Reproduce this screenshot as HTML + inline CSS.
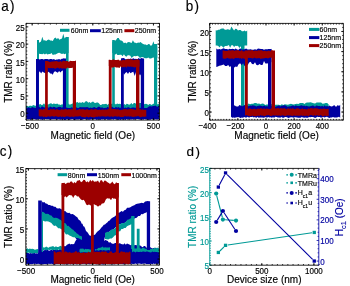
<!DOCTYPE html>
<html><head><meta charset="utf-8"><style>
html,body{margin:0;padding:0;background:#fff;}
svg{display:block;font-family:"Liberation Sans",sans-serif;}
</style></head><body>
<svg width="350" height="286" viewBox="0 0 350 286">
<defs><filter id="bl" x="0" y="0" width="350" height="286" filterUnits="userSpaceOnUse"><feGaussianBlur stdDeviation="0.4"/></filter></defs>
<rect width="350" height="286" fill="#fff"/>
<g filter="url(#bl)">
<rect width="350" height="286" fill="#fff"/>
<clipPath id="ca"><rect x="26.1" y="23.4" width="133.4" height="96.69999999999999"/></clipPath>
<g clip-path="url(#ca)"><path d="M26,105.9 L27.2,106 L28.4,106.6 L29.6,105.8 L30.8,105.8 L32,105.9 L33.2,105.1 L34.4,105.6 L35.6,105.8 L36.8,105.9 L38,104.4 L39.2,104.6 L40.4,104 L41.6,105.1 L42.8,104.7 L44,103.3 L45.2,104.9 L46.4,104.9 L47.6,104.4 L48.8,104.3 L50,103.5 L51.2,103.3 L52.4,104.3 L53.6,103.5 L54.8,103.8 L56,103.9 L57.2,103.6 L58.4,104.4 L59.5,104.4 L60.7,105 L61.9,104.3 L63.1,104.4 L64.3,104.1 L65.5,104.2 L66.7,103.7 L67.9,103.3 L69.1,104.5 L70.3,104.4 L71.5,104 L72.7,103.6 L73.9,102.8 L75.1,102.5 L76.3,102.5 L77.5,101.9 L78.7,103 L79.9,102.2 L81.1,102.9 L82.3,101.9 L83.5,102.8 L84.7,102.5 L85.9,101 L87.1,101.4 L88.3,102.8 L89.5,102.1 L90.7,103.1 L91.9,102.1 L93.1,101.6 L94.3,102.7 L95.5,103.1 L96.7,102.6 L97.9,102.6 L99.1,103.4 L100.3,104.9 L101.5,104.8 L102.7,104 L103.9,104.3 L105.1,103.9 L106.3,103.7 L107.5,104.9 L108.7,103.7 L109.9,104.3 L111.1,104 L112.3,103.5 L113.5,104.5 L114.7,103.4 L115.9,104.4 L117.1,103.5 L118.3,104.1 L119.5,103.8 L120.7,103.9 L121.9,105.2 L123.1,105 L124.3,104.1 L125.5,105.1 L126.6,103.8 L127.8,104 L129,104.7 L130.2,104.2 L131.4,103.1 L132.6,104.6 L133.8,103.1 L135,103.1 L136.2,104.1 L137.4,103.3 L138.6,103.3 L139.8,103 L141,103.1 L142.2,104 L143.4,103.5 L144.6,104.2 L145.8,103.8 L147,104 L148.2,104.9 L149.4,104.1 L150.6,104.3 L151.8,104.9 L153,103.7 L154.2,103.7 L155.4,105.1 L156.6,105 L157.8,104 L159,103.9 L159,110 L157.8,110 L156.6,110 L155.4,110 L154.2,110 L153,110 L151.8,110 L150.6,110 L149.4,110 L148.2,110 L147,110 L145.8,110 L144.6,110 L143.4,110 L142.2,110 L141,110 L139.8,110 L138.6,110 L137.4,110 L136.2,110 L135,110 L133.8,110 L132.6,110 L131.4,110 L130.2,110 L129,110 L127.8,110 L126.6,110 L125.5,110 L124.3,110 L123.1,110 L121.9,110 L120.7,110 L119.5,110 L118.3,110 L117.1,110 L115.9,110 L114.7,110 L113.5,110 L112.3,110 L111.1,110 L109.9,110 L108.7,110 L107.5,110 L106.3,110 L105.1,110 L103.9,110 L102.7,110 L101.5,110 L100.3,110 L99.1,110 L97.9,110 L96.7,110 L95.5,110 L94.3,110 L93.1,110 L91.9,110 L90.7,110 L89.5,110 L88.3,110 L87.1,110 L85.9,110 L84.7,110 L83.5,110 L82.3,110 L81.1,110 L79.9,110 L78.7,110 L77.5,110 L76.3,110 L75.1,110 L73.9,110 L72.7,110 L71.5,110 L70.3,110 L69.1,110 L67.9,110 L66.7,110 L65.5,110 L64.3,110 L63.1,110 L61.9,110 L60.7,110 L59.5,110 L58.4,110 L57.2,110 L56,110 L54.8,110 L53.6,110 L52.4,110 L51.2,110 L50,110 L48.8,110 L47.6,110 L46.4,110 L45.2,110 L44,110 L42.8,110 L41.6,110 L40.4,110 L39.2,110 L38,110 L36.8,110 L35.6,110 L34.4,110 L33.2,110 L32,110 L30.8,110 L29.6,110 L28.4,110 L27.2,110 L26,110Z" fill="#009a96"/><path d="M37,42.1 L38.3,42.5 L39.6,42.4 L41,41.4 L42.3,36.7 L43.6,40.4 L44.9,40.3 L46.2,41 L47.5,39.9 L48.9,39.6 L50.2,40.6 L51.5,40.5 L52.8,41 L54.1,38.6 L55.4,37.6 L56.8,38.9 L58.1,38.1 L59.4,39.7 L60.7,39 L62,38.6 L63.3,33.8 L64.6,38.5 L66,36.7 L67.3,37.6 L68.6,37.1 L68.6,53.3 L67.3,52.4 L66,53.5 L64.6,54.2 L63.3,53.6 L62,53.9 L60.7,53.5 L59.4,52.7 L58.1,52.9 L56.8,53.8 L55.4,54.4 L54.1,54.4 L52.8,54.9 L51.5,53.1 L50.2,54 L48.9,54.1 L47.5,54.5 L46.2,53.6 L44.9,54.5 L43.6,53.4 L42.3,54.2 L41,54.1 L39.6,54 L38.3,52.7 L37,54.5Z" fill="#009a96"/><path d="M37,40 L37,42 L37,44 L37,46 L37,48 L37,50 L37,52 L37,54 L37,56 L37,58 L37,60 L37,62 L37,64 L37,66 L37,68 L37,70 L37,72 L37,74 L37,76 L37,78 L37,80 L37,82 L37,84 L37,86 L37,88 L37,90 L37,92 L37,94 L37,96 L37,98 L37,100 L37,102 L37,104 L37,106 L37,108 L39,108 L39,106 L39,104 L39,102 L39,100 L39,98 L39,96 L39,94 L39,92 L39,90 L39,88 L39,86 L39,84 L39,82 L39,80 L39,78 L39,76 L39,74 L39,72 L39,70 L39,68 L39,66 L39,64 L39,62 L39,60 L39,58 L39,56 L39,54 L39,52 L39,50 L39,48 L39,46 L39,44 L39,42 L39,40Z" fill="#009a96"/><path d="M66,37 L66,39 L66,41.1 L66,43.1 L66,45.1 L66,47.1 L66,49.2 L66,51.2 L66,53.2 L66,55.3 L66,57.3 L66,59.3 L66,61.3 L66,63.4 L66,65.4 L66,67.4 L66,69.5 L66,71.5 L66,73.5 L66,75.5 L66,77.6 L66,79.6 L66,81.6 L66,83.7 L66,85.7 L66,87.7 L66,89.7 L66,91.8 L66,93.8 L66,95.8 L66,97.9 L66,99.9 L66,101.9 L66,103.9 L66,106 L66,108 L68.6,108 L68.6,106 L68.6,103.9 L68.6,101.9 L68.6,99.9 L68.6,97.9 L68.6,95.8 L68.6,93.8 L68.6,91.8 L68.6,89.7 L68.6,87.7 L68.6,85.7 L68.6,83.7 L68.6,81.6 L68.6,79.6 L68.6,77.6 L68.6,75.5 L68.6,73.5 L68.6,71.5 L68.6,69.5 L68.6,67.4 L68.6,65.4 L68.6,63.4 L68.6,61.3 L68.6,59.3 L68.6,57.3 L68.6,55.3 L68.6,53.2 L68.6,51.2 L68.6,49.2 L68.6,47.1 L68.6,45.1 L68.6,43.1 L68.6,41.1 L68.6,39 L68.6,37Z" fill="#009a96"/><path d="M112.3,42.1 L113.6,40.6 L114.9,40.9 L116.2,39.7 L117.4,38.1 L118.7,38 L120,40.3 L121.3,40.6 L122.6,41.3 L123.9,43.3 L125.2,42.6 L126.4,43.4 L127.7,42.2 L129,42.1 L130.3,42.6 L131.6,42.9 L132.9,40.3 L134.2,42.6 L135.4,42.8 L136.7,43.2 L138,42.6 L139.3,42.7 L140.6,41.9 L141.9,43.3 L143.2,44.1 L144.4,44.5 L145.7,44.5 L147,45.2 L148.3,44.1 L149.6,44.2 L150.9,46 L152.2,44.7 L153.4,41.3 L154.7,45.5 L156,44.9 L157.3,46.4 L157.3,58 L156,58.7 L154.7,59.7 L153.4,57.3 L152.2,57.9 L150.9,58.5 L149.6,58.6 L148.3,57.5 L147,58.2 L145.7,58.3 L144.4,58 L143.2,57.3 L141.9,57 L140.6,57.8 L139.3,57.5 L138,55.8 L136.7,55.9 L135.4,56.2 L134.2,56.1 L132.9,56.7 L131.6,58.1 L130.3,55.7 L129,55.2 L127.7,55.3 L126.4,56.8 L125.2,56 L123.9,54.3 L122.6,56.2 L121.3,54.8 L120,54.8 L118.7,54.9 L117.4,54.9 L116.2,53.5 L114.9,55 L113.6,53.5 L112.3,53Z" fill="#009a96"/><path d="M112.2,40 L112.2,42 L112.2,44 L112.2,46 L112.2,48 L112.2,50 L112.2,52 L112.2,54 L112.2,56 L112.2,58 L112.2,60 L112.2,62 L112.2,64 L112.2,66 L112.2,68 L112.2,70 L112.2,72 L112.2,74 L112.2,76 L112.2,78 L112.2,80 L112.2,82 L112.2,84 L112.2,86 L112.2,88 L112.2,90 L112.2,92 L112.2,94 L112.2,96 L112.2,98 L112.2,100 L112.2,102 L112.2,104 L112.2,106 L112.2,108 L114.8,108 L114.8,106 L114.8,104 L114.8,102 L114.8,100 L114.8,98 L114.8,96 L114.8,94 L114.8,92 L114.8,90 L114.8,88 L114.8,86 L114.8,84 L114.8,82 L114.8,80 L114.8,78 L114.8,76 L114.8,74 L114.8,72 L114.8,70 L114.8,68 L114.8,66 L114.8,64 L114.8,62 L114.8,60 L114.8,58 L114.8,56 L114.8,54 L114.8,52 L114.8,50 L114.8,48 L114.8,46 L114.8,44 L114.8,42 L114.8,40Z" fill="#009a96"/><path d="M154,44 L154,46 L154,48 L154,50 L154,52 L154,54 L154,56 L154,58 L154,60 L154,62 L154,64 L154,66 L154,68 L154,70 L154,72 L154,74 L154,76 L154,78 L154,80 L154,82 L154,84 L154,86 L154,88 L154,90 L154,92 L154,94 L154,96 L154,98 L154,100 L154,102 L154,104 L154,106 L154,108 L157.2,108 L157.2,106 L157.2,104 L157.2,102 L157.2,100 L157.2,98 L157.2,96 L157.2,94 L157.2,92 L157.2,90 L157.2,88 L157.2,86 L157.2,84 L157.2,82 L157.2,80 L157.2,78 L157.2,76 L157.2,74 L157.2,72 L157.2,70 L157.2,68 L157.2,66 L157.2,64 L157.2,62 L157.2,60 L157.2,58 L157.2,56 L157.2,54 L157.2,52 L157.2,50 L157.2,48 L157.2,46 L157.2,44Z" fill="#009a96"/><path d="M26,107.1 L27.2,108 L28.4,107.3 L29.6,107.7 L30.8,108.2 L32,107.1 L33.2,107.5 L34.4,107.8 L35.6,108 L36.8,107.2 L38,107.1 L39.2,106.7 L40.4,107.9 L41.6,106.6 L42.8,106.6 L44,107.4 L45.2,107.3 L46.4,107.6 L47.6,107 L48.8,107.8 L50,106.6 L51.2,106.9 L52.4,107.6 L53.6,106.7 L54.8,107 L56,107.7 L57.2,107.6 L58.4,107 L59.5,106.8 L60.7,107.1 L61.9,107.7 L63.1,107.1 L64.3,106.7 L65.5,107.7 L66.7,107.5 L67.9,108 L69.1,108.1 L70.3,108 L71.5,107.3 L72.7,107.8 L73.9,107.1 L75.1,107.1 L76.3,107.2 L77.5,108.1 L78.7,108 L79.9,107 L81.1,107.2 L82.3,107.2 L83.5,107.2 L84.7,107.2 L85.9,107.2 L87.1,106.9 L88.3,107.5 L89.5,107.9 L90.7,107.5 L91.9,107.9 L93.1,107.5 L94.3,106.9 L95.5,107.8 L96.7,108 L97.9,107.1 L99.1,106.6 L100.3,107.4 L101.5,107.5 L102.7,107.5 L103.9,108.2 L105.1,107.7 L106.3,107.9 L107.5,106.7 L108.7,107.5 L109.9,107.9 L111.1,106.8 L112.3,106.8 L113.5,107.8 L114.7,108.1 L115.9,106.8 L117.1,107.7 L118.3,106.9 L119.5,107.8 L120.7,107.7 L121.9,107 L123.1,107 L124.3,107.9 L125.5,107.5 L126.6,107.9 L127.8,107.3 L129,107.2 L130.2,108.2 L131.4,107.7 L132.6,107.5 L133.8,107.5 L135,107.8 L136.2,107.8 L137.4,108.1 L138.6,107.3 L139.8,108 L141,107.8 L142.2,108.1 L143.4,108 L144.6,108 L145.8,108.1 L147,107.9 L148.2,106.9 L149.4,106.3 L150.6,106.3 L151.8,106.5 L153,105.9 L154.2,105.9 L155.4,105.4 L156.6,106.4 L157.8,106.8 L159,105.8 L159,119 L157.8,119.5 L156.6,119.6 L155.4,119.2 L154.2,119.7 L153,119.4 L151.8,119 L150.6,119.7 L149.4,119.8 L148.2,120 L147,119.5 L145.8,119.4 L144.6,119.1 L143.4,119.7 L142.2,119.4 L141,119.7 L139.8,119.5 L138.6,119.3 L137.4,119.1 L136.2,119.3 L135,119.3 L133.8,119.8 L132.6,119.2 L131.4,119.5 L130.2,119.5 L129,119.2 L127.8,119.8 L126.6,119.1 L125.5,119.9 L124.3,119.4 L123.1,119.8 L121.9,119.3 L120.7,119.9 L119.5,119.6 L118.3,120 L117.1,119.5 L115.9,119.5 L114.7,119.1 L113.5,119.7 L112.3,119.3 L111.1,119.1 L109.9,119.8 L108.7,119.8 L107.5,119.8 L106.3,119 L105.1,119.8 L103.9,119.2 L102.7,119.5 L101.5,119.3 L100.3,120 L99.1,119.6 L97.9,119.5 L96.7,119.9 L95.5,119.3 L94.3,119.3 L93.1,119.2 L91.9,119.2 L90.7,119.6 L89.5,119.7 L88.3,119.8 L87.1,119.4 L85.9,119.5 L84.7,119 L83.5,119.2 L82.3,119.7 L81.1,120 L79.9,119.3 L78.7,119.5 L77.5,119.5 L76.3,119.4 L75.1,119.8 L73.9,119.9 L72.7,119 L71.5,119.2 L70.3,119.5 L69.1,120 L67.9,119.5 L66.7,119.3 L65.5,119.9 L64.3,119.9 L63.1,119.3 L61.9,119.5 L60.7,119.8 L59.5,119.5 L58.4,119.3 L57.2,119.8 L56,119.2 L54.8,119.3 L53.6,119.2 L52.4,119.2 L51.2,119.6 L50,119.7 L48.8,119.2 L47.6,119.2 L46.4,119.2 L45.2,119.1 L44,119 L42.8,119.9 L41.6,119.6 L40.4,119.5 L39.2,119.1 L38,119.2 L36.8,119.8 L35.6,119.6 L34.4,119.1 L33.2,119.3 L32,119.1 L30.8,120 L29.6,119.3 L28.4,119.4 L27.2,119.2 L26,119.2Z" fill="#0000a0"/><path d="M36,60 L37.3,59.7 L38.6,58.9 L39.8,59.5 L41.1,59 L42.4,59.1 L43.7,59.4 L45,59 L46.3,59.1 L47.5,59.1 L48.8,59.5 L50.1,59 L51.4,58.9 L52.7,59.6 L54,59.1 L55.2,59.9 L56.5,59.4 L57.8,59.6 L59.1,59.1 L60.4,59.8 L61.7,58.7 L62.9,58.8 L64.2,58.7 L65.5,59.5 L65.5,71.5 L64.2,72.2 L62.9,70.4 L61.7,71 L60.4,72.5 L59.1,70.9 L57.8,72.7 L56.5,72.1 L55.2,71.3 L54,72.1 L52.7,74.7 L51.4,73.5 L50.1,73.5 L48.8,71.8 L47.5,72.4 L46.3,73.5 L45,73 L43.7,72.4 L42.4,71.4 L41.1,73.5 L39.8,71.3 L38.6,73 L37.3,71.3 L36,72.5Z" fill="#0000a0"/><path d="M36,59 L36,61 L36,63.1 L36,65.1 L36,67.2 L36,69.2 L36,71.2 L36,73.3 L36,75.3 L36,77.4 L36,79.4 L36,81.5 L36,83.5 L36,85.5 L36,87.6 L36,89.6 L36,91.7 L36,93.7 L36,95.8 L36,97.8 L36,99.8 L36,101.9 L36,103.9 L36,106 L36,108 L38.9,108 L38.9,106 L38.9,103.9 L38.9,101.9 L38.9,99.8 L38.9,97.8 L38.9,95.8 L38.9,93.7 L38.9,91.7 L38.9,89.6 L38.9,87.6 L38.9,85.5 L38.9,83.5 L38.9,81.5 L38.9,79.4 L38.9,77.4 L38.9,75.3 L38.9,73.3 L38.9,71.2 L38.9,69.2 L38.9,67.2 L38.9,65.1 L38.9,63.1 L38.9,61 L38.9,59Z" fill="#0000a0"/><path d="M62.9,58.5 L62.9,60.6 L62.9,62.6 L62.9,64.7 L62.9,66.8 L62.9,68.8 L62.9,70.9 L62.9,72.9 L62.9,75 L62.9,77.1 L62.9,79.1 L62.9,81.2 L62.9,83.2 L62.9,85.3 L62.9,87.4 L62.9,89.4 L62.9,91.5 L62.9,93.6 L62.9,95.6 L62.9,97.7 L62.9,99.8 L62.9,101.8 L62.9,103.9 L62.9,105.9 L62.9,108 L66,108 L66,105.9 L66,103.9 L66,101.8 L66,99.8 L66,97.7 L66,95.6 L66,93.6 L66,91.5 L66,89.4 L66,87.4 L66,85.3 L66,83.2 L66,81.2 L66,79.1 L66,77.1 L66,75 L66,72.9 L66,70.9 L66,68.8 L66,66.8 L66,64.7 L66,62.6 L66,60.6 L66,58.5Z" fill="#0000a0"/><path d="M121.3,58.5 L122.6,58.2 L124,58 L125.3,59.2 L126.6,59.3 L128,58.8 L129.3,59.1 L130.6,58.5 L132,59 L133.3,58.2 L134.7,58.9 L136,58.7 L137.3,59.2 L138.7,58 L140,59 L141.3,58.1 L142.7,58.7 L144,59.2 L144,73.2 L142.7,71.9 L141.3,73.7 L140,75.4 L138.7,73.5 L137.3,71.5 L136,71.9 L134.7,76 L133.3,71.8 L132,72.2 L130.6,73.3 L129.3,71.8 L128,74 L126.6,72 L125.3,73.1 L124,74.7 L122.6,71.7 L121.3,71.1Z" fill="#0000a0"/><path d="M121,58.5 L121,60.6 L121,62.6 L121,64.7 L121,66.8 L121,68.8 L121,70.9 L121,72.9 L121,75 L121,77.1 L121,79.1 L121,81.2 L121,83.2 L121,85.3 L121,87.4 L121,89.4 L121,91.5 L121,93.6 L121,95.6 L121,97.7 L121,99.8 L121,101.8 L121,103.9 L121,105.9 L121,108 L123.8,108 L123.8,105.9 L123.8,103.9 L123.8,101.8 L123.8,99.8 L123.8,97.7 L123.8,95.6 L123.8,93.6 L123.8,91.5 L123.8,89.4 L123.8,87.4 L123.8,85.3 L123.8,83.2 L123.8,81.2 L123.8,79.1 L123.8,77.1 L123.8,75 L123.8,72.9 L123.8,70.9 L123.8,68.8 L123.8,66.8 L123.8,64.7 L123.8,62.6 L123.8,60.6 L123.8,58.5Z" fill="#0000a0"/><path d="M140.8,58.5 L140.8,60.6 L140.8,62.6 L140.8,64.7 L140.8,66.8 L140.8,68.8 L140.8,70.9 L140.8,72.9 L140.8,75 L140.8,77.1 L140.8,79.1 L140.8,81.2 L140.8,83.2 L140.8,85.3 L140.8,87.4 L140.8,89.4 L140.8,91.5 L140.8,93.6 L140.8,95.6 L140.8,97.7 L140.8,99.8 L140.8,101.8 L140.8,103.9 L140.8,105.9 L140.8,108 L144.1,108 L144.1,105.9 L144.1,103.9 L144.1,101.8 L144.1,99.8 L144.1,97.7 L144.1,95.6 L144.1,93.6 L144.1,91.5 L144.1,89.4 L144.1,87.4 L144.1,85.3 L144.1,83.2 L144.1,81.2 L144.1,79.1 L144.1,77.1 L144.1,75 L144.1,72.9 L144.1,70.9 L144.1,68.8 L144.1,66.8 L144.1,64.7 L144.1,62.6 L144.1,60.6 L144.1,58.5Z" fill="#0000a0"/><path d="M38.7,109.2 L39.9,109.6 L41.1,108.9 L42.3,109.9 L43.5,109 L44.7,109.2 L45.9,109 L47.1,109.8 L48.3,110 L49.5,109.9 L50.7,108.9 L51.9,109.4 L53,109.3 L54.2,109.1 L55.4,110.2 L56.6,108.9 L57.8,109.5 L59,109.9 L60.2,110.2 L61.4,109 L62.6,109.4 L63.8,109.8 L65,108.9 L66.2,109.1 L67.4,110 L68.6,109 L69.8,109.4 L71,109.2 L72.2,109.4 L73.4,108.9 L74.6,108.8 L75.8,110.2 L77,109.9 L78.2,109.8 L79.3,109.1 L80.5,109.2 L81.7,109.6 L82.9,109.1 L84.1,109.4 L85.3,110.1 L86.5,109.3 L87.7,109.3 L88.9,110.2 L90.1,109.7 L91.3,108.9 L92.5,109.4 L93.7,109.7 L94.9,108.9 L96.1,109.3 L97.3,109.8 L98.5,110 L99.7,109.6 L100.9,110 L102.1,109.4 L103.3,109.4 L104.5,110 L105.7,109.3 L106.8,109.9 L108,109.1 L109.2,109.3 L110.4,109.1 L111.6,109.6 L112.8,109 L114,109.1 L115.2,109.1 L116.4,109.5 L117.6,109.2 L118.8,109.4 L120,110.2 L121.2,109.8 L122.4,110 L123.6,109.1 L124.8,109.3 L126,108.9 L127.2,109.8 L128.4,109.3 L129.6,109.2 L130.8,108.8 L132,109.1 L133.1,109.2 L134.3,109.4 L135.5,110.1 L136.7,109.8 L137.9,109.2 L139.1,109.3 L140.3,109 L141.5,110.1 L142.7,109.3 L143.9,109.9 L145.1,109.8 L146.3,110.1 L146.3,116.8 L145.1,116.4 L143.9,117 L142.7,116.5 L141.5,116.9 L140.3,117.3 L139.1,116.6 L137.9,116.1 L136.7,116.5 L135.5,116.6 L134.3,116.8 L133.1,116.9 L132,116.8 L130.8,116.2 L129.6,116.7 L128.4,116.2 L127.2,116.6 L126,116.6 L124.8,116.1 L123.6,117.1 L122.4,116.9 L121.2,117.1 L120,116.9 L118.8,116.3 L117.6,116.7 L116.4,116.6 L115.2,116.2 L114,116.4 L112.8,117 L111.6,116.3 L110.4,116.8 L109.2,116.7 L108,116.3 L106.8,116.5 L105.7,116.8 L104.5,116.6 L103.3,116.6 L102.1,116.2 L100.9,116.6 L99.7,116.7 L98.5,116.2 L97.3,117 L96.1,116.4 L94.9,117.3 L93.7,117.4 L92.5,117 L91.3,117.1 L90.1,116.4 L88.9,117.4 L87.7,117 L86.5,116.5 L85.3,117.5 L84.1,117.2 L82.9,116.9 L81.7,117 L80.5,116.1 L79.3,116.2 L78.2,116.4 L77,116.6 L75.8,116.5 L74.6,116.4 L73.4,117.3 L72.2,116.6 L71,116.7 L69.8,117.1 L68.6,116.5 L67.4,116.4 L66.2,116.3 L65,117 L63.8,117.1 L62.6,116.5 L61.4,117.1 L60.2,116.3 L59,116.9 L57.8,116.7 L56.6,116.5 L55.4,116.1 L54.2,116.9 L53,116.3 L51.9,116.2 L50.7,116.4 L49.5,116.7 L48.3,116.2 L47.1,116.8 L45.9,117.2 L44.7,116.6 L43.5,117.3 L42.3,116.2 L41.1,116.6 L39.9,116.6 L38.7,116.1Z" fill="#9c0000"/><path d="M45,61.5 L46.2,61.9 L47.4,61.1 L48.6,61.4 L49.8,61.9 L51,61.7 L52.2,61.5 L53.3,61.5 L54.5,61.2 L55.7,61.2 L56.9,61 L58.1,61.8 L59.3,61.8 L60.5,61.1 L61.7,61.9 L62.9,60.7 L64.1,60.8 L65.3,61.3 L66.5,61 L67.7,61.1 L68.8,62 L70,60.8 L71.2,60.9 L72.4,60.9 L73.6,61.6 L74.8,60.9 L76,60.6 L76,68.1 L74.8,68.4 L73.6,67.6 L72.4,67.8 L71.2,68.1 L70,68 L68.8,68.2 L67.7,67.4 L66.5,68.6 L65.3,68.8 L64.1,68.3 L62.9,68.4 L61.7,68.4 L60.5,67.7 L59.3,68.7 L58.1,67.7 L56.9,67.7 L55.7,68.8 L54.5,68.6 L53.3,68.1 L52.2,68.2 L51,68.1 L49.8,68.3 L48.6,68 L47.4,67.5 L46.2,67.8 L45,68.1Z" fill="#9c0000"/><path d="M45.1,61 L45.1,63 L45.1,65.1 L45.1,67.1 L45.1,69.2 L45.1,71.2 L45.1,73.2 L45.1,75.3 L45.1,77.3 L45.1,79.4 L45.1,81.4 L45.1,83.4 L45.1,85.5 L45.1,87.5 L45.1,89.6 L45.1,91.6 L45.1,93.6 L45.1,95.7 L45.1,97.7 L45.1,99.8 L45.1,101.8 L45.1,103.8 L45.1,105.9 L45.1,107.9 L45.1,110 L45.1,112 L47.8,112 L47.8,110 L47.8,107.9 L47.8,105.9 L47.8,103.8 L47.8,101.8 L47.8,99.8 L47.8,97.7 L47.8,95.7 L47.8,93.6 L47.8,91.6 L47.8,89.6 L47.8,87.5 L47.8,85.5 L47.8,83.4 L47.8,81.4 L47.8,79.4 L47.8,77.3 L47.8,75.3 L47.8,73.2 L47.8,71.2 L47.8,69.2 L47.8,67.1 L47.8,65.1 L47.8,63 L47.8,61Z" fill="#9c0000"/><path d="M72.8,61 L72.8,63 L72.8,65.1 L72.8,67.1 L72.8,69.2 L72.8,71.2 L72.8,73.2 L72.8,75.3 L72.8,77.3 L72.8,79.4 L72.8,81.4 L72.8,83.4 L72.8,85.5 L72.8,87.5 L72.8,89.6 L72.8,91.6 L72.8,93.6 L72.8,95.7 L72.8,97.7 L72.8,99.8 L72.8,101.8 L72.8,103.8 L72.8,105.9 L72.8,107.9 L72.8,110 L72.8,112 L76,112 L76,110 L76,107.9 L76,105.9 L76,103.8 L76,101.8 L76,99.8 L76,97.7 L76,95.7 L76,93.6 L76,91.6 L76,89.6 L76,87.5 L76,85.5 L76,83.4 L76,81.4 L76,79.4 L76,77.3 L76,75.3 L76,73.2 L76,71.2 L76,69.2 L76,67.1 L76,65.1 L76,63 L76,61Z" fill="#9c0000"/><path d="M108.8,59.8 L110,59.7 L111.2,60.2 L112.4,59.7 L113.5,59.2 L114.7,59.9 L115.9,60 L117.1,60 L118.3,59.5 L119.5,60.4 L120.6,60.3 L121.8,60.5 L123,59.7 L124.2,60.3 L125.4,60.1 L126.6,59.3 L127.8,59.1 L128.9,59.3 L130.1,59.3 L131.3,59.2 L132.5,59.6 L133.7,60.2 L134.9,59.5 L136,59.8 L137.2,59.1 L138.4,59.4 L139.6,60.4 L139.6,66.6 L138.4,66.7 L137.2,67.2 L136,66.8 L134.9,67.6 L133.7,67.3 L132.5,66.8 L131.3,66.8 L130.1,66.5 L128.9,67.1 L127.8,66.1 L126.6,67.7 L125.4,66.6 L124.2,67.4 L123,66.8 L121.8,67.8 L120.6,66.3 L119.5,67.9 L118.3,67.5 L117.1,67.6 L115.9,67.5 L114.7,66.8 L113.5,67.4 L112.4,67.5 L111.2,67.6 L110,67 L108.8,66.1Z" fill="#9c0000"/><path d="M108.8,60 L108.8,62 L108.8,64 L108.8,66 L108.8,68 L108.8,70 L108.8,72 L108.8,74 L108.8,76 L108.8,78 L108.8,80 L108.8,82 L108.8,84 L108.8,86 L108.8,88 L108.8,90 L108.8,92 L108.8,94 L108.8,96 L108.8,98 L108.8,100 L108.8,102 L108.8,104 L108.8,106 L108.8,108 L108.8,110 L108.8,112 L111.6,112 L111.6,110 L111.6,108 L111.6,106 L111.6,104 L111.6,102 L111.6,100 L111.6,98 L111.6,96 L111.6,94 L111.6,92 L111.6,90 L111.6,88 L111.6,86 L111.6,84 L111.6,82 L111.6,80 L111.6,78 L111.6,76 L111.6,74 L111.6,72 L111.6,70 L111.6,68 L111.6,66 L111.6,64 L111.6,62 L111.6,60Z" fill="#9c0000"/><path d="M136,60 L136,62 L136,64 L136,66 L136,68 L136,70 L136,72 L136,74 L136,76 L136,78 L136,80 L136,82 L136,84 L136,86 L136,88 L136,90 L136,92 L136,94 L136,96 L136,98 L136,100 L136,102 L136,104 L136,106 L136,108 L136,110 L136,112 L139.4,112 L139.4,110 L139.4,108 L139.4,106 L139.4,104 L139.4,102 L139.4,100 L139.4,98 L139.4,96 L139.4,94 L139.4,92 L139.4,90 L139.4,88 L139.4,86 L139.4,84 L139.4,82 L139.4,80 L139.4,78 L139.4,76 L139.4,74 L139.4,72 L139.4,70 L139.4,68 L139.4,66 L139.4,64 L139.4,62 L139.4,60Z" fill="#9c0000"/></g>
<rect x="60" y="28.8" width="9.5" height="3" fill="#009a96"/>
<text x="70.8" y="33" font-size="7" stroke="#000" stroke-width="0.15">60nm</text>
<rect x="90" y="29.2" width="10.8" height="3" fill="#0000a0"/>
<text x="101.3" y="33" font-size="7" stroke="#000" stroke-width="0.15">125nm</text>
<rect x="124.4" y="29.2" width="9.9" height="3" fill="#9c0000"/>
<text x="134.8" y="33" font-size="7" stroke="#000" stroke-width="0.15">250nm</text>
<clipPath id="cb"><rect x="209.7" y="23.4" width="133.7" height="96.69999999999999"/></clipPath>
<g clip-path="url(#cb)"><path d="M244,105.8 L245.5,105.6 L247,105.3 L248.5,103.6 L250.1,104.3 L251.6,103.8 L253.1,103.8 L254.6,102.9 L256.1,103.1 L257.6,103.8 L259.1,103.6 L260.6,104.2 L262.1,103.6 L263.7,103.8 L265.2,104.9 L266.7,104.4 L268.2,104.5 L269.7,104.9 L271.2,104.2 L272.7,103.7 L274.2,105 L275.8,104.7 L277.3,104.8 L278.8,104.7 L280.3,105.3 L281.8,104.3 L283.3,105 L284.8,104.3 L286.3,104.6 L287.9,104.8 L289.4,104.2 L290.9,103.7 L292.4,104.2 L293.9,104.5 L295.4,104.1 L296.9,103.7 L298.4,103.9 L300,102.9 L301.5,102.9 L303,103.1 L304.5,103.9 L306,102.7 L307.5,102.5 L309,102.5 L310.5,102.3 L312.1,102.7 L313.6,103.2 L315.1,103.5 L316.6,102.6 L318.1,102.6 L319.6,102.4 L321.1,102.6 L322.6,103.7 L324.2,103.5 L325.7,103.1 L327.2,103.1 L328.7,104.5 L328.7,110 L327.2,110 L325.7,110 L324.2,110 L322.6,110 L321.1,110 L319.6,110 L318.1,110 L316.6,110 L315.1,110 L313.6,110 L312.1,110 L310.5,110 L309,110 L307.5,110 L306,110 L304.5,110 L303,110 L301.5,110 L300,110 L298.4,110 L296.9,110 L295.4,110 L293.9,110 L292.4,110 L290.9,110 L289.4,110 L287.9,110 L286.3,110 L284.8,110 L283.3,110 L281.8,110 L280.3,110 L278.8,110 L277.3,110 L275.8,110 L274.2,110 L272.7,110 L271.2,110 L269.7,110 L268.2,110 L266.7,110 L265.2,110 L263.7,110 L262.1,110 L260.6,110 L259.1,110 L257.6,110 L256.1,110 L254.6,110 L253.1,110 L251.6,110 L250.1,110 L248.5,110 L247,110 L245.5,110 L244,110Z" fill="#009a96"/><path d="M215.7,30.2 L217,30.4 L218.3,29.7 L219.6,29.8 L220.9,28.8 L222.3,28.5 L223.6,28.4 L224.9,29.7 L226.2,29.8 L227.5,29.2 L228.8,29.6 L230.1,30 L231.4,26.5 L232.8,28.7 L234.1,30.4 L235.4,28.8 L236.7,29.1 L238,30.6 L239.3,29.9 L240.6,30.1 L241.9,31.2 L243.3,31.3 L244.6,30.5 L245.9,31.5 L247.2,30.5 L247.2,45.5 L245.9,45.4 L244.6,45.5 L243.3,46 L241.9,46.3 L240.6,46.5 L239.3,47.9 L238,45.8 L236.7,45.9 L235.4,45.8 L234.1,46.9 L232.8,45.2 L231.4,45.3 L230.1,47.7 L228.8,44.9 L227.5,45.7 L226.2,45.9 L224.9,45.9 L223.6,47.7 L222.3,46.4 L220.9,45.5 L219.6,47.6 L218.3,45.9 L217,45.6 L215.7,45.4Z" fill="#009a96"/><path d="M241,45 L241,47 L241,49 L241,51 L241,53 L241,55 L241,57 L241,59 L241,61 L241,63 L241,65 L241,67 L241,69 L241,71 L241,73 L241,75 L241,77 L241,79 L241,81 L241,83 L241,85 L241,87 L241,89 L241,91 L241,93 L241,95 L241,97 L241,99 L241,101 L241,103 L241,105 L241,107 L244.5,107 L244.5,105 L244.5,103 L244.5,101 L244.5,99 L244.5,97 L244.5,95 L244.5,93 L244.5,91 L244.5,89 L244.5,87 L244.5,85 L244.5,83 L244.5,81 L244.5,79 L244.5,77 L244.5,75 L244.5,73 L244.5,71 L244.5,69 L244.5,67 L244.5,65 L244.5,63 L244.5,61 L244.5,59 L244.5,57 L244.5,55 L244.5,53 L244.5,51 L244.5,49 L244.5,47 L244.5,45Z" fill="#009a96"/><path d="M231,105.7 L232.2,105.9 L233.4,106.2 L234.6,105.3 L235.8,106.2 L237,106.4 L238.2,106.4 L239.4,105.1 L240.6,105.5 L241.8,106.1 L243,106.2 L244.2,105 L245.4,105.6 L246.6,106.1 L247.8,106.2 L249,105.9 L250.2,105.4 L251.4,105.7 L252.6,105.2 L253.8,105.6 L255,105.8 L256.2,106.5 L257.4,106.1 L258.6,105.8 L259.8,105.6 L261,105.7 L262.2,106.3 L263.4,105.9 L264.6,105.5 L265.8,106.5 L267,106.1 L268.2,106.7 L269.4,106.1 L270.6,106.2 L271.8,105.9 L273,106.2 L274.2,106.7 L275.4,106.8 L276.6,106.3 L277.8,105.9 L279,105.3 L280.2,106.5 L281.4,105.8 L282.6,105.8 L283.8,105.3 L285,105.3 L286.2,105.8 L287.4,106.8 L288.6,106.4 L289.8,106.3 L291,106.3 L292.2,105.6 L293.4,105.5 L294.6,106.2 L295.8,105.3 L297,106.1 L298.2,106 L299.4,106.1 L300.6,105.4 L301.8,105.3 L303,106 L304.2,105.4 L305.4,106.2 L306.6,105.7 L307.8,106.2 L309,106.4 L310.2,106.2 L311.4,106.1 L312.6,105.5 L313.8,105.8 L315,106.8 L316.2,105.6 L317.4,105.7 L318.6,106 L319.8,106.1 L321,106.5 L322.2,105.7 L323.4,106.7 L324.6,105.2 L325.8,106.5 L327,106.1 L328.2,106.6 L329.4,105.4 L330.6,106.2 L331.8,106.6 L333,106.1 L334.2,105.1 L335.4,106.4 L336.6,106.4 L337.8,105 L339,106.1 L340.2,104.8 L340.2,117.8 L339,116.8 L337.8,117.2 L336.6,117.6 L335.4,117.5 L334.2,117.4 L333,116.9 L331.8,117.6 L330.6,117.6 L329.4,117.9 L328.2,117.4 L327,116.7 L325.8,117 L324.6,117.4 L323.4,116.9 L322.2,117.3 L321,117.8 L319.8,117.1 L318.6,117 L317.4,116.8 L316.2,117.6 L315,117.9 L313.8,117.3 L312.6,116.9 L311.4,117.1 L310.2,117.3 L309,116.9 L307.8,117.8 L306.6,117.8 L305.4,117.6 L304.2,117.7 L303,117.4 L301.8,117 L300.6,117.7 L299.4,117.7 L298.2,117.8 L297,117.4 L295.8,117.3 L294.6,117.3 L293.4,117.7 L292.2,117.3 L291,117.2 L289.8,117.4 L288.6,117.9 L287.4,117.4 L286.2,116.9 L285,116.9 L283.8,117.7 L282.6,117.7 L281.4,116.9 L280.2,117.7 L279,117.4 L277.8,117.5 L276.6,117.1 L275.4,116.8 L274.2,117.7 L273,117.2 L271.8,117.8 L270.6,117.3 L269.4,117.4 L268.2,117.1 L267,117.7 L265.8,116.9 L264.6,117.5 L263.4,117.7 L262.2,117.4 L261,117.4 L259.8,117.6 L258.6,117.7 L257.4,116.7 L256.2,117.9 L255,116.9 L253.8,117.5 L252.6,116.8 L251.4,117 L250.2,116.9 L249,117.7 L247.8,116.8 L246.6,117.6 L245.4,117.6 L244.2,116.9 L243,117.8 L241.8,117.5 L240.6,117.9 L239.4,117.4 L238.2,117 L237,117.3 L235.8,117.5 L234.6,117.8 L233.4,117.6 L232.2,117.7 L231,116.8Z" fill="#0000a0"/><path d="M216.3,48.6 L217.8,49.4 L219.3,48.9 L220.8,49.4 L222.3,48.7 L223.7,48.3 L225.2,48.9 L226.7,49 L228.2,49.5 L229.7,48.8 L231.2,49.3 L232.7,48.8 L234.2,49.4 L235.7,48.5 L237.1,49.6 L238.6,49.7 L240.1,48.2 L241.6,49.6 L243.1,49.4 L244.6,49.3 L246.1,48.4 L247.6,49.4 L249.1,49.4 L250.6,49.2 L252,49.7 L253.5,49.7 L255,49.2 L256.5,49.7 L258,48.4 L259.5,48.7 L261,49 L262.5,49 L264,49.7 L265.4,49.2 L266.9,49.2 L268.4,49.2 L269.9,49.7 L271.4,48.8 L271.4,62.2 L269.9,61.4 L268.4,63.3 L266.9,63.5 L265.4,63.5 L264,61.1 L262.5,64.9 L261,65 L259.5,63.9 L258,65.2 L256.5,65.1 L255,62.3 L253.5,64.3 L252,64.1 L250.6,61.8 L249.1,62.6 L247.6,65.5 L246.1,63.6 L244.6,66.2 L243.1,63.2 L241.6,65.2 L240.1,63.3 L238.6,64.3 L237.1,67.1 L235.7,66.6 L234.2,67.4 L232.7,68.3 L231.2,66.1 L229.7,66.9 L228.2,65 L226.7,65.9 L225.2,65.9 L223.7,64.4 L222.3,64.9 L220.8,65.6 L219.3,65.8 L217.8,66.5 L216.3,67.1Z" fill="#0000a0"/><path d="M231,49 L231,51 L231,53.1 L231,55.1 L231,57.1 L231,59.2 L231,61.2 L231,63.2 L231,65.3 L231,67.3 L231,69.3 L231,71.4 L231,73.4 L231,75.4 L231,77.5 L231,79.5 L231,81.6 L231,83.6 L231,85.6 L231,87.7 L231,89.7 L231,91.7 L231,93.8 L231,95.8 L231,97.8 L231,99.9 L231,101.9 L231,103.9 L231,106 L231,108 L234,108 L234,106 L234,103.9 L234,101.9 L234,99.9 L234,97.8 L234,95.8 L234,93.8 L234,91.7 L234,89.7 L234,87.7 L234,85.6 L234,83.6 L234,81.6 L234,79.5 L234,77.5 L234,75.4 L234,73.4 L234,71.4 L234,69.3 L234,67.3 L234,65.3 L234,63.2 L234,61.2 L234,59.2 L234,57.1 L234,55.1 L234,53.1 L234,51 L234,49Z" fill="#0000a0"/><path d="M268,49 L268,51 L268,53.1 L268,55.1 L268,57.1 L268,59.2 L268,61.2 L268,63.2 L268,65.3 L268,67.3 L268,69.3 L268,71.4 L268,73.4 L268,75.4 L268,77.5 L268,79.5 L268,81.6 L268,83.6 L268,85.6 L268,87.7 L268,89.7 L268,91.7 L268,93.8 L268,95.8 L268,97.8 L268,99.9 L268,101.9 L268,103.9 L268,106 L268,108 L271.4,108 L271.4,106 L271.4,103.9 L271.4,101.9 L271.4,99.9 L271.4,97.8 L271.4,95.8 L271.4,93.8 L271.4,91.7 L271.4,89.7 L271.4,87.7 L271.4,85.6 L271.4,83.6 L271.4,81.6 L271.4,79.5 L271.4,77.5 L271.4,75.4 L271.4,73.4 L271.4,71.4 L271.4,69.3 L271.4,67.3 L271.4,65.3 L271.4,63.2 L271.4,61.2 L271.4,59.2 L271.4,57.1 L271.4,55.1 L271.4,53.1 L271.4,51 L271.4,49Z" fill="#0000a0"/><path d="M245,109.2 L246.2,109.2 L247.4,109.1 L248.6,108.7 L249.8,108.1 L251,109.1 L252.2,109.2 L253.4,109 L254.6,108.4 L255.8,109.4 L257,108.9 L258.2,108.4 L259.3,109.1 L260.5,108.3 L261.7,108.3 L262.9,109.3 L264.1,108.1 L265.3,109.2 L266.5,108.6 L267.7,108.8 L268.9,109 L270.1,109.3 L271.3,108.3 L272.5,108.1 L273.7,108.7 L274.9,108.3 L276.1,108.6 L277.3,108.2 L278.5,108.1 L279.7,108.8 L280.9,108.1 L282.1,108.4 L283.3,108.5 L284.5,108.1 L285.7,109.1 L286.9,109.3 L288,108 L289.2,109.1 L290.4,108.2 L291.6,109 L292.8,108.1 L294,109 L295.2,109.3 L296.4,108.4 L297.6,108.2 L298.8,108.5 L300,109.2 L301.2,109.1 L302.4,108.2 L303.6,109.3 L304.8,109 L306,109.3 L307.2,109.4 L308.4,108.2 L309.6,109 L310.8,108 L312,108.3 L313.2,108.8 L314.4,108.3 L315.5,108.3 L316.7,108.5 L317.9,108.6 L319.1,109.3 L320.3,108.8 L321.5,108.8 L322.7,109 L323.9,108.3 L325.1,109.1 L326.3,109.1 L327.5,109.1 L328.7,108.6 L328.7,116.1 L327.5,115.8 L326.3,116.3 L325.1,115.5 L323.9,116 L322.7,116.4 L321.5,115.6 L320.3,115 L319.1,115.9 L317.9,115.4 L316.7,115.1 L315.5,116 L314.4,115.1 L313.2,116 L312,115.2 L310.8,115 L309.6,115.3 L308.4,116.4 L307.2,115.6 L306,115.8 L304.8,116.1 L303.6,115.6 L302.4,115.9 L301.2,115.3 L300,115.8 L298.8,115.7 L297.6,115.8 L296.4,115.6 L295.2,116 L294,115.3 L292.8,116.1 L291.6,115.7 L290.4,115.4 L289.2,115.4 L288,115.4 L286.9,115.2 L285.7,116.3 L284.5,115.8 L283.3,115.5 L282.1,115.3 L280.9,116 L279.7,115.4 L278.5,115.5 L277.3,115.7 L276.1,115.3 L274.9,115.8 L273.7,115.3 L272.5,115.5 L271.3,116.1 L270.1,116.1 L268.9,115.1 L267.7,115.2 L266.5,115.3 L265.3,115.9 L264.1,116.2 L262.9,115.6 L261.7,115.8 L260.5,115 L259.3,116.2 L258.2,115.5 L257,116 L255.8,116.3 L254.6,116.2 L253.4,116.1 L252.2,115.5 L251,116.3 L249.8,116.3 L248.6,115.9 L247.4,115.6 L246.2,115.1 L245,115.8Z" fill="#9c0000"/><path d="M222.6,50.5 L223.8,50.5 L225,51 L226.2,51.1 L227.4,51 L228.6,50.2 L229.7,50.6 L230.9,50.4 L232.1,50.3 L233.3,50.2 L234.5,51 L235.7,50.2 L236.9,50.5 L238.1,50 L239.3,51 L240.5,50.9 L241.7,50.1 L242.8,51.3 L244,51.4 L245.2,51.1 L246.4,51.1 L247.6,51 L248.8,50 L250,50.4 L251.2,50.3 L252.4,50 L253.6,50.9 L254.8,50.8 L255.9,50.5 L257.1,51 L258.3,50.3 L259.5,50.4 L260.7,50.2 L261.9,50.3 L263.1,51.2 L264.3,50.7 L265.5,51 L266.7,51.2 L267.9,50.9 L269,50.5 L270.2,51.4 L271.4,50.1 L272.6,50.6 L273.8,51.2 L275,51 L275,57.9 L273.8,57.4 L272.6,57.4 L271.4,57.7 L270.2,57.4 L269,58.1 L267.9,58.5 L266.7,58.1 L265.5,58 L264.3,58.2 L263.1,58.5 L261.9,58.5 L260.7,58.9 L259.5,58.1 L258.3,58.2 L257.1,58.2 L255.9,58.5 L254.8,57.6 L253.6,58.2 L252.4,58.6 L251.2,58.1 L250,58 L248.8,57.7 L247.6,58.4 L246.4,58 L245.2,58.8 L244,58.7 L242.8,57.9 L241.7,59.1 L240.5,57.9 L239.3,58.4 L238.1,57.7 L236.9,58.3 L235.7,57.7 L234.5,58.6 L233.3,59 L232.1,58.2 L230.9,58.8 L229.7,58.5 L228.6,58.5 L227.4,57.8 L226.2,58.6 L225,58.7 L223.8,58.8 L222.6,57.9Z" fill="#9c0000"/><path d="M245,50.5 L245,52.5 L245,54.6 L245,56.6 L245,58.7 L245,60.8 L245,62.8 L245,64.8 L245,66.9 L245,69 L245,71 L245,73 L245,75.1 L245,77.2 L245,79.2 L245,81.2 L245,83.3 L245,85.3 L245,87.4 L245,89.5 L245,91.5 L245,93.5 L245,95.6 L245,97.7 L245,99.7 L245,101.8 L245,103.8 L245,105.8 L245,107.9 L245,110 L245,112 L247.8,112 L247.8,110 L247.8,107.9 L247.8,105.8 L247.8,103.8 L247.8,101.8 L247.8,99.7 L247.8,97.7 L247.8,95.6 L247.8,93.5 L247.8,91.5 L247.8,89.5 L247.8,87.4 L247.8,85.3 L247.8,83.3 L247.8,81.2 L247.8,79.2 L247.8,77.2 L247.8,75.1 L247.8,73 L247.8,71 L247.8,69 L247.8,66.9 L247.8,64.8 L247.8,62.8 L247.8,60.8 L247.8,58.7 L247.8,56.6 L247.8,54.6 L247.8,52.5 L247.8,50.5Z" fill="#9c0000"/><path d="M271.6,50.5 L271.6,52.5 L271.6,54.6 L271.6,56.6 L271.6,58.7 L271.6,60.8 L271.6,62.8 L271.6,64.8 L271.6,66.9 L271.6,69 L271.6,71 L271.6,73 L271.6,75.1 L271.6,77.2 L271.6,79.2 L271.6,81.2 L271.6,83.3 L271.6,85.3 L271.6,87.4 L271.6,89.5 L271.6,91.5 L271.6,93.5 L271.6,95.6 L271.6,97.7 L271.6,99.7 L271.6,101.8 L271.6,103.8 L271.6,105.8 L271.6,107.9 L271.6,110 L271.6,112 L275,112 L275,110 L275,107.9 L275,105.8 L275,103.8 L275,101.8 L275,99.7 L275,97.7 L275,95.6 L275,93.5 L275,91.5 L275,89.5 L275,87.4 L275,85.3 L275,83.3 L275,81.2 L275,79.2 L275,77.2 L275,75.1 L275,73 L275,71 L275,69 L275,66.9 L275,64.8 L275,62.8 L275,60.8 L275,58.7 L275,56.6 L275,54.6 L275,52.5 L275,50.5Z" fill="#9c0000"/></g>
<rect x="309" y="27.9" width="10.3" height="3" fill="#009a96"/>
<text x="319.6" y="32" font-size="7" stroke="#000" stroke-width="0.15">60nm</text>
<rect x="309" y="36.1" width="10.3" height="3" fill="#0000a0"/>
<text x="319.6" y="40.2" font-size="7" stroke="#000" stroke-width="0.15">125nm</text>
<rect x="309" y="44.1" width="10.3" height="3" fill="#9c0000"/>
<text x="319.6" y="48.2" font-size="7" stroke="#000" stroke-width="0.15">250nm</text>
<clipPath id="cc"><rect x="25.8" y="168.6" width="133.7" height="96.50000000000003"/></clipPath>
<g clip-path="url(#cc)"><path d="M26,252.7 L27.2,252.9 L28.4,253.1 L29.6,253.4 L30.8,253.1 L32,253.4 L33.2,252 L34.4,252.8 L35.6,253.6 L36.8,253.2 L38,253.6 L39.2,251.6 L40.4,251.4 L41.6,250.3 L42.8,250.5 L44,250.5 L45.2,249.6 L46.4,249.8 L47.6,249.8 L48.9,250.8 L50.1,250.5 L51.3,249.5 L52.5,250.4 L53.7,249.3 L54.9,250 L56.1,249.2 L57.3,248.9 L58.5,250.2 L59.7,249.1 L60.9,249.1 L62.1,249.2 L63.3,247.8 L64.5,245.9 L65.7,246.2 L66.9,244.8 L68.1,244.3 L69.3,243.4 L70.5,244.5 L71.7,244 L72.9,244.3 L74.1,244 L75.3,241.2 L76.5,239.5 L77.7,238.3 L78.9,237.9 L80.1,237.4 L81.3,237.4 L82.5,237.7 L83.7,236.8 L84.9,237.9 L86.1,237.4 L87.3,237.5 L88.5,238.3 L89.7,237.9 L90.9,237.7 L92.1,238 L93.4,238.7 L94.6,237.9 L95.8,239.7 L97,238.5 L98.2,239.9 L99.4,240.4 L100.6,239.3 L101.8,240.8 L103,240.3 L104.2,240.8 L105.4,240.1 L106.6,240.5 L107.8,241.1 L109,242.7 L110.2,241.9 L111.4,243.2 L112.6,243.7 L113.8,243.8 L115,243 L116.2,243.1 L117.4,243.4 L118.6,243.9 L119.8,242.9 L121,244.1 L122.2,244.3 L123.4,244.5 L124.6,243.3 L125.8,244.8 L127,243.6 L128.2,244.1 L129.4,244.6 L130.6,245.3 L131.8,244.5 L133,245.6 L134.2,245.2 L135.4,245 L136.6,245.2 L137.9,245.1 L139.1,245.2 L140.3,245.4 L141.5,246.5 L142.7,247.2 L143.9,246 L145.1,246 L146.3,247.7 L147.5,247.1 L148.7,247.1 L149.9,247 L151.1,247.8 L152.3,248.4 L153.5,248 L154.7,248.1 L155.9,247.7 L157.1,249.3 L158.3,248.1 L159.5,249 L159.5,264.3 L158.3,263.7 L157.1,263.9 L155.9,263.8 L154.7,263.9 L153.5,263.6 L152.3,264.3 L151.1,263.8 L149.9,264.1 L148.7,264.1 L147.5,263.9 L146.3,264 L145.1,263.6 L143.9,263.8 L142.7,263.7 L141.5,263.9 L140.3,263.7 L139.1,263.6 L137.9,263.8 L136.6,264 L135.4,263.6 L134.2,264.1 L133,264.1 L131.8,263.8 L130.6,264.1 L129.4,264 L128.2,263.7 L127,263.6 L125.8,264.2 L124.6,264.1 L123.4,264.2 L122.2,264.1 L121,263.9 L119.8,264.1 L118.6,264.1 L117.4,264.2 L116.2,263.7 L115,264.2 L113.8,264.2 L112.6,264.2 L111.4,264 L110.2,264.3 L109,264.3 L107.8,263.7 L106.6,264 L105.4,264 L104.2,264.4 L103,264.4 L101.8,264.2 L100.6,264.3 L99.4,264.3 L98.2,263.9 L97,264.3 L95.8,264.2 L94.6,264.1 L93.4,263.9 L92.1,264.2 L90.9,264.1 L89.7,264.3 L88.5,264 L87.3,264.1 L86.1,263.8 L84.9,264 L83.7,263.6 L82.5,264.1 L81.3,264.1 L80.1,264.4 L78.9,263.8 L77.7,264.2 L76.5,264.2 L75.3,264 L74.1,263.8 L72.9,264.2 L71.7,263.9 L70.5,264.2 L69.3,264.1 L68.1,264.2 L66.9,264.2 L65.7,264.2 L64.5,263.9 L63.3,264.3 L62.1,264.2 L60.9,263.8 L59.7,263.7 L58.5,263.9 L57.3,264 L56.1,264.1 L54.9,264.4 L53.7,264.4 L52.5,263.9 L51.3,263.7 L50.1,263.9 L48.9,263.8 L47.6,264 L46.4,264.2 L45.2,264 L44,264 L42.8,264.4 L41.6,264.3 L40.4,264.4 L39.2,264 L38,263.8 L36.8,264.3 L35.6,263.7 L34.4,263.9 L33.2,263.7 L32,264.2 L30.8,264.1 L29.6,264.4 L28.4,264.2 L27.2,263.7 L26,264.3Z" fill="#0000a0"/><path d="M26,248.8 L27.2,248.3 L28.5,249.2 L29.8,248.4 L31,249.1 L32.2,248.7 L33.5,249.1 L34.8,249.7 L36,249.5 L37.2,248.9 L38.5,249.5 L38.5,252.5 L37.2,253.4 L36,252.9 L34.8,253.1 L33.5,253.5 L32.2,253.5 L31,253.1 L29.8,253.1 L28.5,252.6 L27.2,252.9 L26,253.1Z" fill="#009a96"/><path d="M42.5,246.9 L43.7,247.5 L44.9,247.5 L46.2,246.6 L47.4,247.3 L48.6,247.7 L49.8,246.7 L51,246.7 L52.2,246.3 L53.5,246.3 L54.7,247.3 L55.9,246.3 L57.1,247.1 L58.3,246.9 L59.6,246.3 L60.8,245.7 L62,246.8 L62,250.4 L60.8,249.8 L59.6,250 L58.3,249.5 L57.1,250.3 L55.9,250.3 L54.7,249.8 L53.5,249.9 L52.2,250.1 L51,249.6 L49.8,250 L48.6,249.8 L47.4,250 L46.2,250.5 L44.9,249.8 L43.7,249.9 L42.5,250Z" fill="#009a96"/><path d="M79.5,249.4 L80.7,248.6 L81.9,248.7 L83.1,248.5 L84.3,249.7 L85.5,248.7 L86.7,249.2 L87.9,249 L89.1,249.2 L90.3,249.1 L91.5,249.3 L91.5,252.5 L90.3,252.6 L89.1,252.3 L87.9,252.4 L86.7,252.4 L85.5,252.2 L84.3,252.2 L83.1,252.4 L81.9,252.2 L80.7,252.7 L79.5,252Z" fill="#009a96"/><path d="M95,246.7 L96.2,247 L97.5,247.2 L98.8,247.9 L100,247.8 L101.2,247.4 L102.5,246.6 L103.8,247.7 L105,247.2 L106.2,247.4 L107.5,247.6 L108.8,247.5 L110,247.3 L110,250.6 L108.8,250.1 L107.5,250.2 L106.2,250.5 L105,250.6 L103.8,249.9 L102.5,250.6 L101.2,250.1 L100,250 L98.8,250.7 L97.5,250.2 L96.2,250.2 L95,250.7Z" fill="#009a96"/><path d="M132,249.2 L133.2,247.9 L134.4,248.4 L135.6,248.5 L136.8,248.4 L138,248.1 L139.2,247.8 L140.4,248.5 L141.6,248.8 L142.8,247.6 L144,247.9 L145.2,248.8 L146.3,248.7 L147.5,248.5 L148.7,247.4 L149.9,248.5 L151.1,248.9 L152.3,248.9 L153.5,248.4 L154.7,247.4 L155.9,248.6 L157.1,247.6 L158.3,248.3 L159.5,248.7 L159.5,251.9 L158.3,252.4 L157.1,252 L155.9,252.1 L154.7,251.8 L153.5,251.9 L152.3,251.6 L151.1,252.4 L149.9,252.2 L148.7,252.1 L147.5,251.6 L146.3,251.6 L145.2,251.9 L144,251.6 L142.8,251.5 L141.6,252.1 L140.4,251.7 L139.2,251.9 L138,252.1 L136.8,251.6 L135.6,252.4 L134.4,251.8 L133.2,251.6 L132,252.2Z" fill="#009a96"/><path d="M41.5,200.8 L42.9,202.4 L44.3,202.1 L45.7,203.4 L47.1,203.8 L48.5,205 L49.9,205 L51.2,205.7 L52.6,205.7 L54,206.7 L55.4,206.8 L56.8,208.2 L58.2,208.4 L59.6,208.3 L61,209.1 L62.4,209.9 L63.8,211.2 L65.2,210.9 L66.7,212.4 L68.1,213 L69.5,212.7 L70.9,214.3 L72.6,214.1 L74.3,214.9 L76,216.4 L77.3,217.2 L78.7,219.7 L80,220.6 L80.8,221.6 L81.7,223.7 L82.5,223.8 L83.3,226.2 L84.2,226.5 L85,227.9 L85.8,230.5 L86.5,231.4 L87.2,232 L88,233.1 L89.3,235.3 L90.7,235.7 L92,236.8 L93.5,234.9 L95,234.8 L96.2,233 L97.5,231.5 L98.8,230.4 L100,229.5 L101.2,227.7 L102.5,226.5 L103.8,224.7 L105,224.5 L106.2,223.2 L107.3,222.5 L108.5,220.9 L109.7,220.6 L110.8,219 L112,218.1 L113.3,217.2 L114.7,216.6 L116,215.2 L117.3,213.8 L118.7,212.8 L120,212.2 L121.4,211.1 L122.9,211.7 L124.3,210.2 L125.7,209.8 L127.1,207.8 L128.6,207.7 L130,207.5 L131.4,206.6 L132.9,205.8 L134.3,205.3 L135.7,204.3 L137.1,203.8 L138.6,203.4 L140,203.2 L141.7,202.8 L143.4,203.2 L145.1,201.6 L146.8,201.3 L148.5,201.3 L148.5,211.6 L147.1,212 L145.7,212.8 L144.2,213.2 L142.8,214.2 L141.4,214 L140,216 L138.3,216 L136.7,217.8 L135,218.3 L133.6,218.9 L132.1,219.2 L130.7,220.6 L129.3,220 L127.9,221.5 L126.4,221.5 L125,222.8 L123.6,223.6 L122.2,223.4 L120.8,224.1 L119.4,224.5 L118,225.6 L116.5,226.3 L115,227.8 L113.5,229.8 L112,229.8 L110.5,230.7 L109,231.9 L107.5,232.7 L106,234.4 L105.5,236 L105,236.8 L104.5,238.6 L104,240.9 L103.5,243 L103,244.2 L101.8,245.1 L100.5,247.3 L99.2,247 L98,248.3 L96.5,249.4 L95,248.9 L93.5,248.3 L92,249.1 L90.5,249.8 L89,249 L87.5,248.8 L86,248.4 L84.8,247.1 L83.6,247.2 L82.4,245.4 L81.2,244.9 L80,242.3 L78.8,241.3 L77.5,239.8 L76.2,239.1 L75,237.3 L73.8,236.4 L72.5,235.4 L71.2,233.9 L70,232.3 L68.9,231.1 L67.8,231.5 L66.6,229.1 L65.5,228.5 L64.4,227.2 L63.2,226.3 L62.1,224.5 L61,223.7 L59.6,222.6 L58.2,222.6 L56.9,222.4 L55.5,221.2 L54.1,220.8 L52.8,219 L51.4,218 L50,218.1 L48.6,217.1 L47.2,216.4 L45.8,215.3 L44.3,214.9 L42.9,214.2 L41.5,213Z" fill="#0000a0"/><path d="M41.5,212.2 L42.9,211.8 L44.3,212.7 L45.8,214.1 L47.2,213.7 L48.6,214.1 L50,215.2 L51.4,215.4 L52.8,217.3 L54.1,218 L55.5,217.7 L56.9,218 L58.2,218.6 L59.6,219.5 L61,219.9 L62.2,221.4 L63.5,222.7 L64.8,223.1 L66,223.7 L67.2,225.9 L68.4,225.7 L69.6,227 L70.8,228.1 L72,229.3 L73.2,229.7 L74.4,231.2 L75.6,231.9 L76.8,233.6 L78,234.1 L79.3,235.5 L80.7,235.9 L82,236.5 L82,240 L80,238.9 L78,237.9 L76.3,238.1 L74.7,237.3 L73,237.3 L71.2,236.3 L69.5,235.6 L67.8,234.2 L66,234.6 L64.8,232.7 L63.5,231.1 L62.2,229.8 L61,228.9 L59.6,228.3 L58.2,228.2 L56.9,226.7 L55.5,225.5 L54.1,225.9 L52.8,224.7 L51.4,223 L50,222.2 L48.4,221.6 L46.8,221.3 L45.2,221.5 L43.6,221 L42,219.5Z" fill="#009a96"/><path d="M134,216.7 L132.7,216.8 L131.3,218 L130,218.8 L128.7,219.5 L127.3,219.8 L126,221.7 L124.5,222.8 L123,223.3 L121.5,222.9 L120,224.4 L118.5,224.4 L117.2,226.4 L115.9,226.9 L114.6,228.8 L113.3,229.5 L112,229.3 L110.6,230.3 L109.2,231.9 L107.8,231.7 L106.4,232.3 L105,233 L105,238.9 L106.7,239.3 L108.3,239.5 L110,238.6 L111.7,238.5 L113.3,237 L115,235.3 L116.2,235.2 L117.5,233.1 L118.8,231.1 L120,231.4 L121.4,228.9 L122.8,229 L124.2,228.1 L125.6,228 L127,226.3 L128.4,225.4 L129.8,224.9 L131.2,224.2 L132.6,224.2 L134,223.5Z" fill="#009a96"/><path d="M41.3,212 L41.3,214 L41.3,216 L41.3,218 L41.3,220 L41.3,222 L41.3,224 L41.3,226 L41.3,228 L41.3,230 L41.3,232 L41.3,234 L41.3,236 L41.3,238 L41.3,240 L41.3,242 L41.3,244 L41.3,246 L41.3,248 L41.3,250 L41.3,252 L43,252 L43,250 L43,248 L43,246 L43,244 L43,242 L43,240 L43,238 L43,236 L43,234 L43,232 L43,230 L43,228 L43,226 L43,224 L43,222 L43,220 L43,218 L43,216 L43,214 L43,212Z" fill="#009a96"/><path d="M131.2,216 L131.2,218.1 L131.2,220.1 L131.2,222.2 L131.2,224.2 L131.2,226.3 L131.2,228.4 L131.2,230.4 L131.2,232.5 L131.2,234.6 L131.2,236.6 L131.2,238.7 L131.2,240.8 L131.2,242.8 L131.2,244.9 L131.2,246.9 L131.2,249 L134.5,249 L134.5,246.9 L134.5,244.9 L134.5,242.8 L134.5,240.8 L134.5,238.7 L134.5,236.6 L134.5,234.6 L134.5,232.5 L134.5,230.4 L134.5,228.4 L134.5,226.3 L134.5,224.2 L134.5,222.2 L134.5,220.1 L134.5,218.1 L134.5,216Z" fill="#009a96"/><path d="M136.8,228.7 L136.8,230.7 L136.8,232.8 L136.8,234.8 L136.8,236.8 L136.8,238.8 L136.8,240.9 L136.8,242.9 L136.8,244.9 L136.8,247 L136.8,249 L139.6,249 L139.6,247 L139.6,244.9 L139.6,242.9 L139.6,240.9 L139.6,238.8 L139.6,236.8 L139.6,234.8 L139.6,232.8 L139.6,230.7 L139.6,228.7Z" fill="#009a96"/><path d="M38.2,200.5 L38.2,202.5 L38.2,204.5 L38.2,206.5 L38.2,208.6 L38.2,210.6 L38.2,212.6 L38.2,214.6 L38.2,216.6 L38.2,218.6 L38.2,220.7 L38.2,222.7 L38.2,224.7 L38.2,226.7 L38.2,228.7 L38.2,230.7 L38.2,232.8 L38.2,234.8 L38.2,236.8 L38.2,238.8 L38.2,240.8 L38.2,242.8 L38.2,244.9 L38.2,246.9 L38.2,248.9 L38.2,250.9 L38.2,252.9 L38.2,254.9 L38.2,257 L38.2,259 L38.2,261 L38.2,263 L41.7,263 L41.7,261 L41.7,259 L41.7,257 L41.7,254.9 L41.7,252.9 L41.7,250.9 L41.7,248.9 L41.7,246.9 L41.7,244.9 L41.7,242.8 L41.7,240.8 L41.7,238.8 L41.7,236.8 L41.7,234.8 L41.7,232.8 L41.7,230.7 L41.7,228.7 L41.7,226.7 L41.7,224.7 L41.7,222.7 L41.7,220.7 L41.7,218.6 L41.7,216.6 L41.7,214.6 L41.7,212.6 L41.7,210.6 L41.7,208.6 L41.7,206.5 L41.7,204.5 L41.7,202.5 L41.7,200.5Z" fill="#0000a0"/><path d="M146.8,201.3 L146.8,203.3 L146.8,205.4 L146.8,207.4 L146.8,209.4 L146.8,211.4 L146.8,213.5 L146.8,215.5 L146.8,217.5 L146.8,219.6 L146.8,221.6 L146.8,223.6 L146.8,225.7 L146.8,227.7 L146.8,229.7 L146.8,231.7 L146.8,233.8 L146.8,235.8 L146.8,237.8 L146.8,239.9 L146.8,241.9 L146.8,243.9 L146.8,245.9 L146.8,248 L146.8,250 L150.1,250 L150.1,248 L150.1,245.9 L150.1,243.9 L150.1,241.9 L150.1,239.9 L150.1,237.8 L150.1,235.8 L150.1,233.8 L150.1,231.7 L150.1,229.7 L150.1,227.7 L150.1,225.7 L150.1,223.6 L150.1,221.6 L150.1,219.6 L150.1,217.5 L150.1,215.5 L150.1,213.5 L150.1,211.4 L150.1,209.4 L150.1,207.4 L150.1,205.4 L150.1,203.3 L150.1,201.3Z" fill="#0000a0"/><path d="M53.7,251.3 L54.9,251.6 L56.1,253.1 L57.3,252.1 L58.5,252.1 L59.7,251.4 L60.9,251.8 L62.1,253.1 L63.3,252.6 L64.5,252.2 L65.7,251.3 L66.9,252 L68.1,252.8 L69.3,252.1 L70.5,252.4 L71.7,253 L72.9,252.5 L74.1,252.5 L75.3,251.3 L76.5,251.2 L77.7,252.7 L78.9,252 L80.1,252.9 L81.3,252.9 L82.5,253 L83.7,252 L84.9,253.2 L86.1,252.7 L87.3,253 L88.5,251.5 L89.7,252.8 L90.9,252 L92.1,253.1 L93.3,253.2 L94.5,251.6 L95.7,252 L96.9,251.7 L98.1,252.1 L99.3,251.8 L100.5,252.5 L101.7,251.4 L102.9,251.5 L104.1,252.1 L105.3,251.3 L106.5,252 L107.7,253 L108.9,253 L110.1,251.6 L111.3,251.2 L112.5,252.9 L113.7,253.1 L114.9,252.4 L116.1,251.5 L117.3,251.7 L118.5,253 L119.7,253.1 L120.9,251.3 L122.1,251.6 L123.3,252.1 L124.5,251.7 L125.7,252.7 L126.9,251.9 L128.1,252.8 L129.3,251.5 L130.5,252.2 L130.5,263.8 L129.3,263.8 L128.1,264.4 L126.9,263.7 L125.7,263.9 L124.5,263.7 L123.3,263.6 L122.1,264 L120.9,263.8 L119.7,264.1 L118.5,264 L117.3,263.9 L116.1,263.7 L114.9,264.3 L113.7,264 L112.5,263.8 L111.3,264.3 L110.1,263.9 L108.9,264 L107.7,264.2 L106.5,264 L105.3,263.7 L104.1,264.3 L102.9,263.7 L101.7,263.8 L100.5,264.4 L99.3,264.4 L98.1,264.3 L96.9,264.2 L95.7,264 L94.5,263.9 L93.3,264.3 L92.1,264.1 L90.9,264 L89.7,263.8 L88.5,263.6 L87.3,263.9 L86.1,263.9 L84.9,263.6 L83.7,264 L82.5,263.6 L81.3,264.2 L80.1,264.1 L78.9,264 L77.7,263.9 L76.5,264.2 L75.3,263.6 L74.1,264.2 L72.9,264 L71.7,263.7 L70.5,264.2 L69.3,264 L68.1,263.8 L66.9,264.1 L65.7,263.8 L64.5,264.4 L63.3,264.1 L62.1,264 L60.9,263.9 L59.7,263.9 L58.5,264.1 L57.3,263.7 L56.1,263.7 L54.9,264.2 L53.7,264.4Z" fill="#9c0000"/><path d="M61.5,184.4 L62.8,184.1 L64.1,182.4 L65.4,184.1 L66.7,183.3 L68,182.4 L69.3,183 L70.6,181.6 L71.9,181.6 L73.2,183.4 L74.5,181.9 L75.8,183.2 L77.1,180.8 L78.4,180.5 L79.7,180.1 L81,182.2 L82.3,181.6 L83.6,179.8 L84.9,179.9 L86.2,182.3 L87.5,181.2 L88.8,182.4 L90.2,179.7 L91.5,181.4 L92.8,179.9 L94.1,181.7 L95.4,181.4 L96.7,181.5 L98,180.4 L99.3,182.9 L100.6,180.3 L101.9,180.3 L103.2,182.4 L104.5,180.6 L105.8,180.7 L107.1,182.1 L108.4,182.8 L109.7,183.7 L111,183.3 L112.3,181.4 L113.6,183.4 L114.9,184.2 L116.2,182 L117.5,184.2 L118.8,182.7 L118.8,198 L117.5,195.9 L116.2,199.3 L114.9,198.4 L113.6,198.7 L112.3,197.7 L111,200.2 L109.7,198.6 L108.4,198.6 L107.1,198.3 L105.8,199.5 L104.5,202.6 L103.2,203.6 L101.9,203.5 L100.6,205.6 L99.3,205.6 L98,206.8 L96.7,205.4 L95.4,205.1 L94.1,204.2 L92.8,203.7 L91.5,206.4 L90.2,205.1 L88.8,204.5 L87.5,205.3 L86.2,204.5 L84.9,201.6 L83.6,199.8 L82.3,200.2 L81,199.5 L79.7,198.1 L78.4,196.2 L77.1,196.5 L75.8,195 L74.5,195.4 L73.2,198 L71.9,195.5 L70.6,195.3 L69.3,195 L68,196.1 L66.7,197.6 L65.4,196.2 L64.1,197 L62.8,194.3 L61.5,195.3Z" fill="#9c0000"/><path d="M61.5,183 L61.5,185 L61.5,187.1 L61.5,189.1 L61.5,191.1 L61.5,193.1 L61.5,195.2 L61.5,197.2 L61.5,199.2 L61.5,201.2 L61.5,203.2 L61.5,205.3 L61.5,207.3 L61.5,209.3 L61.5,211.3 L61.5,213.4 L61.5,215.4 L61.5,217.4 L61.5,219.4 L61.5,221.5 L61.5,223.5 L61.5,225.5 L61.5,227.6 L61.5,229.6 L61.5,231.6 L61.5,233.6 L61.5,235.7 L61.5,237.7 L61.5,239.7 L61.5,241.7 L61.5,243.8 L61.5,245.8 L61.5,247.8 L61.5,249.8 L61.5,251.8 L61.5,253.9 L61.5,255.9 L61.5,257.9 L61.5,259.9 L61.5,262 L61.5,264 L64.3,264 L64.3,262 L64.3,259.9 L64.3,257.9 L64.3,255.9 L64.3,253.9 L64.3,251.8 L64.3,249.8 L64.3,247.8 L64.3,245.8 L64.3,243.8 L64.3,241.7 L64.3,239.7 L64.3,237.7 L64.3,235.7 L64.3,233.6 L64.3,231.6 L64.3,229.6 L64.3,227.6 L64.3,225.5 L64.3,223.5 L64.3,221.5 L64.3,219.4 L64.3,217.4 L64.3,215.4 L64.3,213.4 L64.3,211.3 L64.3,209.3 L64.3,207.3 L64.3,205.3 L64.3,203.2 L64.3,201.2 L64.3,199.2 L64.3,197.2 L64.3,195.2 L64.3,193.1 L64.3,191.1 L64.3,189.1 L64.3,187.1 L64.3,185 L64.3,183Z" fill="#9c0000"/><path d="M91,200 L91,202 L91,204 L91,206 L91,208 L91,210 L91,212 L91,214 L91,216 L91,218 L91,220 L91,222 L91,224 L91,226 L91,228 L91,230 L91,232 L91,234 L91,236 L91,238 L91,240 L91,242 L91,244 L91,246 L91,248 L91,250 L91,252 L91,254 L91,256 L91,258 L91,260 L91,262 L91,264 L93.8,264 L93.8,262 L93.8,260 L93.8,258 L93.8,256 L93.8,254 L93.8,252 L93.8,250 L93.8,248 L93.8,246 L93.8,244 L93.8,242 L93.8,240 L93.8,238 L93.8,236 L93.8,234 L93.8,232 L93.8,230 L93.8,228 L93.8,226 L93.8,224 L93.8,222 L93.8,220 L93.8,218 L93.8,216 L93.8,214 L93.8,212 L93.8,210 L93.8,208 L93.8,206 L93.8,204 L93.8,202 L93.8,200Z" fill="#9c0000"/><path d="M116,183 L116,185 L116,187.1 L116,189.1 L116,191.1 L116,193.1 L116,195.2 L116,197.2 L116,199.2 L116,201.2 L116,203.2 L116,205.3 L116,207.3 L116,209.3 L116,211.3 L116,213.4 L116,215.4 L116,217.4 L116,219.4 L116,221.5 L116,223.5 L116,225.5 L116,227.6 L116,229.6 L116,231.6 L116,233.6 L116,235.7 L116,237.7 L116,239.7 L116,241.7 L116,243.8 L116,245.8 L116,247.8 L116,249.8 L116,251.8 L116,253.9 L116,255.9 L116,257.9 L116,259.9 L116,262 L116,264 L118.8,264 L118.8,262 L118.8,259.9 L118.8,257.9 L118.8,255.9 L118.8,253.9 L118.8,251.8 L118.8,249.8 L118.8,247.8 L118.8,245.8 L118.8,243.8 L118.8,241.7 L118.8,239.7 L118.8,237.7 L118.8,235.7 L118.8,233.6 L118.8,231.6 L118.8,229.6 L118.8,227.6 L118.8,225.5 L118.8,223.5 L118.8,221.5 L118.8,219.4 L118.8,217.4 L118.8,215.4 L118.8,213.4 L118.8,211.3 L118.8,209.3 L118.8,207.3 L118.8,205.3 L118.8,203.2 L118.8,201.2 L118.8,199.2 L118.8,197.2 L118.8,195.2 L118.8,193.1 L118.8,191.1 L118.8,189.1 L118.8,187.1 L118.8,185 L118.8,183Z" fill="#9c0000"/></g>
<rect x="57.6" y="173.2" width="9.6" height="3" fill="#009a96"/>
<text x="67.8" y="177.6" font-size="7" stroke="#000" stroke-width="0.15">80nm</text>
<rect x="87" y="173.2" width="10" height="3" fill="#0000a0"/>
<text x="97.8" y="177.6" font-size="7" stroke="#000" stroke-width="0.15">150nm</text>
<rect x="121.3" y="173.2" width="9.7" height="3" fill="#9c0000"/>
<text x="131.5" y="177.6" font-size="7" stroke="#000" stroke-width="0.15">1000nm</text>
<clipPath id="cd"><rect x="209.7" y="168.4" width="109.10000000000002" height="96.79999999999998"/></clipPath>
<g clip-path="url(#cd)"><path d="M216.7,195.7 L222.4,217.5" fill="none" stroke="#009a96" stroke-width="1.1"/><path d="M225.1,219.8 L233.8,220.4" fill="none" stroke="#009a96" stroke-width="1.1"/><path d="M219.9,251 L224,246.8" fill="none" stroke="#009a96" stroke-width="1.1"/><path d="M227.8,245 L312,232.8" fill="none" stroke="#009a96" stroke-width="1.1"/><path d="M217.3,220.1 L221.8,212.9" fill="none" stroke="#0000a0" stroke-width="1.1"/><path d="M224.1,212.8 L234.8,229.2" fill="none" stroke="#0000a0" stroke-width="1.1"/><path d="M219.3,185.1 L224.6,175" fill="none" stroke="#0000a0" stroke-width="1.1"/><path d="M227.2,174.6 L312.6,259.4" fill="none" stroke="#0000a0" stroke-width="1.1"/><circle cx="216.2" cy="193.6" r="2.1" fill="#009a96"/><circle cx="222.9" cy="219.6" r="2.1" fill="#009a96"/><circle cx="236" cy="220.6" r="2.1" fill="#009a96"/><rect x="216.7" y="250.8" width="3.3" height="3.3" fill="#009a96"/><rect x="223.9" y="243.7" width="3.3" height="3.3" fill="#009a96"/><rect x="312.6" y="230.8" width="3.3" height="3.3" fill="#009a96"/><circle cx="216.2" cy="222" r="2.1" fill="#0000a0"/><circle cx="222.9" cy="211" r="2.1" fill="#0000a0"/><circle cx="236" cy="231" r="2.1" fill="#0000a0"/><rect x="216.7" y="185.4" width="3.3" height="3.3" fill="#0000a0"/><rect x="223.9" y="171.3" width="3.3" height="3.3" fill="#0000a0"/><rect x="312.6" y="259.4" width="3.3" height="3.3" fill="#0000a0"/></g>
<line x1="286.3" y1="174.8" x2="288" y2="174.8" stroke="#009a96" stroke-width="1.2"/>
<line x1="295.2" y1="174.8" x2="297" y2="174.8" stroke="#009a96" stroke-width="1.2"/>
<circle cx="291.7" cy="174.8" r="2.0" fill="#009a96"/>
<text x="297.8" y="177.5" font-size="7" stroke="#000" stroke-width="0.15">TMRa</text>
<line x1="286.3" y1="182.8" x2="288" y2="182.8" stroke="#009a96" stroke-width="1.2"/>
<line x1="295.2" y1="182.8" x2="297" y2="182.8" stroke="#009a96" stroke-width="1.2"/>
<rect x="290.4" y="181.5" width="2.6" height="2.6" fill="#009a96"/>
<text x="297.8" y="185.5" font-size="7" stroke="#000" stroke-width="0.15">TMRu</text>
<line x1="286.3" y1="192.9" x2="288" y2="192.9" stroke="#0000a0" stroke-width="1.2"/>
<line x1="295.2" y1="192.9" x2="297" y2="192.9" stroke="#0000a0" stroke-width="1.2"/>
<circle cx="291.7" cy="192.9" r="2.0" fill="#0000a0"/>
<text x="297.8" y="195.3" font-size="7" stroke="#000" stroke-width="0.15">H<tspan font-size="5" dy="2.2">c1</tspan><tspan dy="-2.2">a</tspan></text>
<line x1="286.3" y1="203" x2="288" y2="203" stroke="#0000a0" stroke-width="1.2"/>
<line x1="295.2" y1="203" x2="297" y2="203" stroke="#0000a0" stroke-width="1.2"/>
<rect x="290.4" y="201.7" width="2.6" height="2.6" fill="#0000a0"/>
<text x="297.8" y="205.3" font-size="7" stroke="#000" stroke-width="0.15">H<tspan font-size="5" dy="2.2">c1</tspan><tspan dy="-2.2">u</tspan></text>
<line x1="32.16" y1="120.1" x2="32.16" y2="117.9" stroke="#000" stroke-width="0.8"/>
<line x1="32.16" y1="23.4" x2="32.16" y2="25.6" stroke="#000" stroke-width="0.8"/>
<line x1="92.8" y1="120.1" x2="92.8" y2="117.9" stroke="#000" stroke-width="0.8"/>
<line x1="92.8" y1="23.4" x2="92.8" y2="25.6" stroke="#000" stroke-width="0.8"/>
<line x1="153.44" y1="120.1" x2="153.44" y2="117.9" stroke="#000" stroke-width="0.8"/>
<line x1="153.44" y1="23.4" x2="153.44" y2="25.6" stroke="#000" stroke-width="0.8"/>
<line x1="26.1" y1="120.1" x2="26.1" y2="118.9" stroke="#000" stroke-width="0.8"/>
<line x1="26.1" y1="23.4" x2="26.1" y2="24.6" stroke="#000" stroke-width="0.8"/>
<line x1="32.16" y1="120.1" x2="32.16" y2="118.9" stroke="#000" stroke-width="0.8"/>
<line x1="32.16" y1="23.4" x2="32.16" y2="24.6" stroke="#000" stroke-width="0.8"/>
<line x1="38.23" y1="120.1" x2="38.23" y2="118.9" stroke="#000" stroke-width="0.8"/>
<line x1="38.23" y1="23.4" x2="38.23" y2="24.6" stroke="#000" stroke-width="0.8"/>
<line x1="44.29" y1="120.1" x2="44.29" y2="118.9" stroke="#000" stroke-width="0.8"/>
<line x1="44.29" y1="23.4" x2="44.29" y2="24.6" stroke="#000" stroke-width="0.8"/>
<line x1="50.35" y1="120.1" x2="50.35" y2="118.9" stroke="#000" stroke-width="0.8"/>
<line x1="50.35" y1="23.4" x2="50.35" y2="24.6" stroke="#000" stroke-width="0.8"/>
<line x1="56.42" y1="120.1" x2="56.42" y2="118.9" stroke="#000" stroke-width="0.8"/>
<line x1="56.42" y1="23.4" x2="56.42" y2="24.6" stroke="#000" stroke-width="0.8"/>
<line x1="62.48" y1="120.1" x2="62.48" y2="118.9" stroke="#000" stroke-width="0.8"/>
<line x1="62.48" y1="23.4" x2="62.48" y2="24.6" stroke="#000" stroke-width="0.8"/>
<line x1="68.55" y1="120.1" x2="68.55" y2="118.9" stroke="#000" stroke-width="0.8"/>
<line x1="68.55" y1="23.4" x2="68.55" y2="24.6" stroke="#000" stroke-width="0.8"/>
<line x1="74.61" y1="120.1" x2="74.61" y2="118.9" stroke="#000" stroke-width="0.8"/>
<line x1="74.61" y1="23.4" x2="74.61" y2="24.6" stroke="#000" stroke-width="0.8"/>
<line x1="80.67" y1="120.1" x2="80.67" y2="118.9" stroke="#000" stroke-width="0.8"/>
<line x1="80.67" y1="23.4" x2="80.67" y2="24.6" stroke="#000" stroke-width="0.8"/>
<line x1="86.74" y1="120.1" x2="86.74" y2="118.9" stroke="#000" stroke-width="0.8"/>
<line x1="86.74" y1="23.4" x2="86.74" y2="24.6" stroke="#000" stroke-width="0.8"/>
<line x1="92.8" y1="120.1" x2="92.8" y2="118.9" stroke="#000" stroke-width="0.8"/>
<line x1="92.8" y1="23.4" x2="92.8" y2="24.6" stroke="#000" stroke-width="0.8"/>
<line x1="98.86" y1="120.1" x2="98.86" y2="118.9" stroke="#000" stroke-width="0.8"/>
<line x1="98.86" y1="23.4" x2="98.86" y2="24.6" stroke="#000" stroke-width="0.8"/>
<line x1="104.93" y1="120.1" x2="104.93" y2="118.9" stroke="#000" stroke-width="0.8"/>
<line x1="104.93" y1="23.4" x2="104.93" y2="24.6" stroke="#000" stroke-width="0.8"/>
<line x1="110.99" y1="120.1" x2="110.99" y2="118.9" stroke="#000" stroke-width="0.8"/>
<line x1="110.99" y1="23.4" x2="110.99" y2="24.6" stroke="#000" stroke-width="0.8"/>
<line x1="117.05" y1="120.1" x2="117.05" y2="118.9" stroke="#000" stroke-width="0.8"/>
<line x1="117.05" y1="23.4" x2="117.05" y2="24.6" stroke="#000" stroke-width="0.8"/>
<line x1="123.12" y1="120.1" x2="123.12" y2="118.9" stroke="#000" stroke-width="0.8"/>
<line x1="123.12" y1="23.4" x2="123.12" y2="24.6" stroke="#000" stroke-width="0.8"/>
<line x1="129.18" y1="120.1" x2="129.18" y2="118.9" stroke="#000" stroke-width="0.8"/>
<line x1="129.18" y1="23.4" x2="129.18" y2="24.6" stroke="#000" stroke-width="0.8"/>
<line x1="135.25" y1="120.1" x2="135.25" y2="118.9" stroke="#000" stroke-width="0.8"/>
<line x1="135.25" y1="23.4" x2="135.25" y2="24.6" stroke="#000" stroke-width="0.8"/>
<line x1="141.31" y1="120.1" x2="141.31" y2="118.9" stroke="#000" stroke-width="0.8"/>
<line x1="141.31" y1="23.4" x2="141.31" y2="24.6" stroke="#000" stroke-width="0.8"/>
<line x1="147.37" y1="120.1" x2="147.37" y2="118.9" stroke="#000" stroke-width="0.8"/>
<line x1="147.37" y1="23.4" x2="147.37" y2="24.6" stroke="#000" stroke-width="0.8"/>
<line x1="153.44" y1="120.1" x2="153.44" y2="118.9" stroke="#000" stroke-width="0.8"/>
<line x1="153.44" y1="23.4" x2="153.44" y2="24.6" stroke="#000" stroke-width="0.8"/>
<line x1="159.5" y1="120.1" x2="159.5" y2="118.9" stroke="#000" stroke-width="0.8"/>
<line x1="159.5" y1="23.4" x2="159.5" y2="24.6" stroke="#000" stroke-width="0.8"/>
<line x1="26.1" y1="113.19" x2="28.3" y2="113.19" stroke="#000" stroke-width="0.8"/>
<line x1="159.5" y1="113.19" x2="157.3" y2="113.19" stroke="#000" stroke-width="0.8"/>
<line x1="26.1" y1="95.92" x2="28.3" y2="95.92" stroke="#000" stroke-width="0.8"/>
<line x1="159.5" y1="95.92" x2="157.3" y2="95.92" stroke="#000" stroke-width="0.8"/>
<line x1="26.1" y1="78.66" x2="28.3" y2="78.66" stroke="#000" stroke-width="0.8"/>
<line x1="159.5" y1="78.66" x2="157.3" y2="78.66" stroke="#000" stroke-width="0.8"/>
<line x1="26.1" y1="61.39" x2="28.3" y2="61.39" stroke="#000" stroke-width="0.8"/>
<line x1="159.5" y1="61.39" x2="157.3" y2="61.39" stroke="#000" stroke-width="0.8"/>
<line x1="26.1" y1="44.12" x2="28.3" y2="44.12" stroke="#000" stroke-width="0.8"/>
<line x1="159.5" y1="44.12" x2="157.3" y2="44.12" stroke="#000" stroke-width="0.8"/>
<line x1="26.1" y1="26.85" x2="28.3" y2="26.85" stroke="#000" stroke-width="0.8"/>
<line x1="159.5" y1="26.85" x2="157.3" y2="26.85" stroke="#000" stroke-width="0.8"/>
<line x1="26.1" y1="120.1" x2="27.3" y2="120.1" stroke="#000" stroke-width="0.8"/>
<line x1="159.5" y1="120.1" x2="158.3" y2="120.1" stroke="#000" stroke-width="0.8"/>
<line x1="26.1" y1="116.65" x2="27.3" y2="116.65" stroke="#000" stroke-width="0.8"/>
<line x1="159.5" y1="116.65" x2="158.3" y2="116.65" stroke="#000" stroke-width="0.8"/>
<line x1="26.1" y1="113.19" x2="27.3" y2="113.19" stroke="#000" stroke-width="0.8"/>
<line x1="159.5" y1="113.19" x2="158.3" y2="113.19" stroke="#000" stroke-width="0.8"/>
<line x1="26.1" y1="109.74" x2="27.3" y2="109.74" stroke="#000" stroke-width="0.8"/>
<line x1="159.5" y1="109.74" x2="158.3" y2="109.74" stroke="#000" stroke-width="0.8"/>
<line x1="26.1" y1="106.29" x2="27.3" y2="106.29" stroke="#000" stroke-width="0.8"/>
<line x1="159.5" y1="106.29" x2="158.3" y2="106.29" stroke="#000" stroke-width="0.8"/>
<line x1="26.1" y1="102.83" x2="27.3" y2="102.83" stroke="#000" stroke-width="0.8"/>
<line x1="159.5" y1="102.83" x2="158.3" y2="102.83" stroke="#000" stroke-width="0.8"/>
<line x1="26.1" y1="99.38" x2="27.3" y2="99.38" stroke="#000" stroke-width="0.8"/>
<line x1="159.5" y1="99.38" x2="158.3" y2="99.38" stroke="#000" stroke-width="0.8"/>
<line x1="26.1" y1="95.92" x2="27.3" y2="95.92" stroke="#000" stroke-width="0.8"/>
<line x1="159.5" y1="95.92" x2="158.3" y2="95.92" stroke="#000" stroke-width="0.8"/>
<line x1="26.1" y1="92.47" x2="27.3" y2="92.47" stroke="#000" stroke-width="0.8"/>
<line x1="159.5" y1="92.47" x2="158.3" y2="92.47" stroke="#000" stroke-width="0.8"/>
<line x1="26.1" y1="89.02" x2="27.3" y2="89.02" stroke="#000" stroke-width="0.8"/>
<line x1="159.5" y1="89.02" x2="158.3" y2="89.02" stroke="#000" stroke-width="0.8"/>
<line x1="26.1" y1="85.56" x2="27.3" y2="85.56" stroke="#000" stroke-width="0.8"/>
<line x1="159.5" y1="85.56" x2="158.3" y2="85.56" stroke="#000" stroke-width="0.8"/>
<line x1="26.1" y1="82.11" x2="27.3" y2="82.11" stroke="#000" stroke-width="0.8"/>
<line x1="159.5" y1="82.11" x2="158.3" y2="82.11" stroke="#000" stroke-width="0.8"/>
<line x1="26.1" y1="78.66" x2="27.3" y2="78.66" stroke="#000" stroke-width="0.8"/>
<line x1="159.5" y1="78.66" x2="158.3" y2="78.66" stroke="#000" stroke-width="0.8"/>
<line x1="26.1" y1="75.2" x2="27.3" y2="75.2" stroke="#000" stroke-width="0.8"/>
<line x1="159.5" y1="75.2" x2="158.3" y2="75.2" stroke="#000" stroke-width="0.8"/>
<line x1="26.1" y1="71.75" x2="27.3" y2="71.75" stroke="#000" stroke-width="0.8"/>
<line x1="159.5" y1="71.75" x2="158.3" y2="71.75" stroke="#000" stroke-width="0.8"/>
<line x1="26.1" y1="68.3" x2="27.3" y2="68.3" stroke="#000" stroke-width="0.8"/>
<line x1="159.5" y1="68.3" x2="158.3" y2="68.3" stroke="#000" stroke-width="0.8"/>
<line x1="26.1" y1="64.84" x2="27.3" y2="64.84" stroke="#000" stroke-width="0.8"/>
<line x1="159.5" y1="64.84" x2="158.3" y2="64.84" stroke="#000" stroke-width="0.8"/>
<line x1="26.1" y1="61.39" x2="27.3" y2="61.39" stroke="#000" stroke-width="0.8"/>
<line x1="159.5" y1="61.39" x2="158.3" y2="61.39" stroke="#000" stroke-width="0.8"/>
<line x1="26.1" y1="57.94" x2="27.3" y2="57.94" stroke="#000" stroke-width="0.8"/>
<line x1="159.5" y1="57.94" x2="158.3" y2="57.94" stroke="#000" stroke-width="0.8"/>
<line x1="26.1" y1="54.48" x2="27.3" y2="54.48" stroke="#000" stroke-width="0.8"/>
<line x1="159.5" y1="54.48" x2="158.3" y2="54.48" stroke="#000" stroke-width="0.8"/>
<line x1="26.1" y1="51.03" x2="27.3" y2="51.03" stroke="#000" stroke-width="0.8"/>
<line x1="159.5" y1="51.03" x2="158.3" y2="51.03" stroke="#000" stroke-width="0.8"/>
<line x1="26.1" y1="47.58" x2="27.3" y2="47.58" stroke="#000" stroke-width="0.8"/>
<line x1="159.5" y1="47.58" x2="158.3" y2="47.58" stroke="#000" stroke-width="0.8"/>
<line x1="26.1" y1="44.12" x2="27.3" y2="44.12" stroke="#000" stroke-width="0.8"/>
<line x1="159.5" y1="44.12" x2="158.3" y2="44.12" stroke="#000" stroke-width="0.8"/>
<line x1="26.1" y1="40.67" x2="27.3" y2="40.67" stroke="#000" stroke-width="0.8"/>
<line x1="159.5" y1="40.67" x2="158.3" y2="40.67" stroke="#000" stroke-width="0.8"/>
<line x1="26.1" y1="37.21" x2="27.3" y2="37.21" stroke="#000" stroke-width="0.8"/>
<line x1="159.5" y1="37.21" x2="158.3" y2="37.21" stroke="#000" stroke-width="0.8"/>
<line x1="26.1" y1="33.76" x2="27.3" y2="33.76" stroke="#000" stroke-width="0.8"/>
<line x1="159.5" y1="33.76" x2="158.3" y2="33.76" stroke="#000" stroke-width="0.8"/>
<line x1="26.1" y1="30.31" x2="27.3" y2="30.31" stroke="#000" stroke-width="0.8"/>
<line x1="159.5" y1="30.31" x2="158.3" y2="30.31" stroke="#000" stroke-width="0.8"/>
<line x1="26.1" y1="26.85" x2="27.3" y2="26.85" stroke="#000" stroke-width="0.8"/>
<line x1="159.5" y1="26.85" x2="158.3" y2="26.85" stroke="#000" stroke-width="0.8"/>
<line x1="26.1" y1="23.4" x2="27.3" y2="23.4" stroke="#000" stroke-width="0.8"/>
<line x1="159.5" y1="23.4" x2="158.3" y2="23.4" stroke="#000" stroke-width="0.8"/>
<line x1="26.1" y1="23.4" x2="159.5" y2="23.4" stroke="#000" stroke-width="0.85"/>
<line x1="26.1" y1="120.1" x2="159.5" y2="120.1" stroke="#000" stroke-width="0.85"/>
<line x1="26.1" y1="23.4" x2="26.1" y2="120.1" stroke="#000" stroke-width="0.85"/>
<line x1="159.5" y1="23.4" x2="159.5" y2="120.1" stroke="#000" stroke-width="0.85"/>
<line x1="209.7" y1="120.1" x2="209.7" y2="117.9" stroke="#000" stroke-width="0.8"/>
<line x1="209.7" y1="23.4" x2="209.7" y2="25.6" stroke="#000" stroke-width="0.8"/>
<line x1="237.85" y1="120.1" x2="237.85" y2="117.9" stroke="#000" stroke-width="0.8"/>
<line x1="237.85" y1="23.4" x2="237.85" y2="25.6" stroke="#000" stroke-width="0.8"/>
<line x1="265.99" y1="120.1" x2="265.99" y2="117.9" stroke="#000" stroke-width="0.8"/>
<line x1="265.99" y1="23.4" x2="265.99" y2="25.6" stroke="#000" stroke-width="0.8"/>
<line x1="294.14" y1="120.1" x2="294.14" y2="117.9" stroke="#000" stroke-width="0.8"/>
<line x1="294.14" y1="23.4" x2="294.14" y2="25.6" stroke="#000" stroke-width="0.8"/>
<line x1="322.29" y1="120.1" x2="322.29" y2="117.9" stroke="#000" stroke-width="0.8"/>
<line x1="322.29" y1="23.4" x2="322.29" y2="25.6" stroke="#000" stroke-width="0.8"/>
<line x1="209.7" y1="120.1" x2="209.7" y2="118.9" stroke="#000" stroke-width="0.8"/>
<line x1="209.7" y1="23.4" x2="209.7" y2="24.6" stroke="#000" stroke-width="0.8"/>
<line x1="212.51" y1="120.1" x2="212.51" y2="118.9" stroke="#000" stroke-width="0.8"/>
<line x1="212.51" y1="23.4" x2="212.51" y2="24.6" stroke="#000" stroke-width="0.8"/>
<line x1="215.33" y1="120.1" x2="215.33" y2="118.9" stroke="#000" stroke-width="0.8"/>
<line x1="215.33" y1="23.4" x2="215.33" y2="24.6" stroke="#000" stroke-width="0.8"/>
<line x1="218.14" y1="120.1" x2="218.14" y2="118.9" stroke="#000" stroke-width="0.8"/>
<line x1="218.14" y1="23.4" x2="218.14" y2="24.6" stroke="#000" stroke-width="0.8"/>
<line x1="220.96" y1="120.1" x2="220.96" y2="118.9" stroke="#000" stroke-width="0.8"/>
<line x1="220.96" y1="23.4" x2="220.96" y2="24.6" stroke="#000" stroke-width="0.8"/>
<line x1="223.77" y1="120.1" x2="223.77" y2="118.9" stroke="#000" stroke-width="0.8"/>
<line x1="223.77" y1="23.4" x2="223.77" y2="24.6" stroke="#000" stroke-width="0.8"/>
<line x1="226.59" y1="120.1" x2="226.59" y2="118.9" stroke="#000" stroke-width="0.8"/>
<line x1="226.59" y1="23.4" x2="226.59" y2="24.6" stroke="#000" stroke-width="0.8"/>
<line x1="229.4" y1="120.1" x2="229.4" y2="118.9" stroke="#000" stroke-width="0.8"/>
<line x1="229.4" y1="23.4" x2="229.4" y2="24.6" stroke="#000" stroke-width="0.8"/>
<line x1="232.22" y1="120.1" x2="232.22" y2="118.9" stroke="#000" stroke-width="0.8"/>
<line x1="232.22" y1="23.4" x2="232.22" y2="24.6" stroke="#000" stroke-width="0.8"/>
<line x1="235.03" y1="120.1" x2="235.03" y2="118.9" stroke="#000" stroke-width="0.8"/>
<line x1="235.03" y1="23.4" x2="235.03" y2="24.6" stroke="#000" stroke-width="0.8"/>
<line x1="237.85" y1="120.1" x2="237.85" y2="118.9" stroke="#000" stroke-width="0.8"/>
<line x1="237.85" y1="23.4" x2="237.85" y2="24.6" stroke="#000" stroke-width="0.8"/>
<line x1="240.66" y1="120.1" x2="240.66" y2="118.9" stroke="#000" stroke-width="0.8"/>
<line x1="240.66" y1="23.4" x2="240.66" y2="24.6" stroke="#000" stroke-width="0.8"/>
<line x1="243.48" y1="120.1" x2="243.48" y2="118.9" stroke="#000" stroke-width="0.8"/>
<line x1="243.48" y1="23.4" x2="243.48" y2="24.6" stroke="#000" stroke-width="0.8"/>
<line x1="246.29" y1="120.1" x2="246.29" y2="118.9" stroke="#000" stroke-width="0.8"/>
<line x1="246.29" y1="23.4" x2="246.29" y2="24.6" stroke="#000" stroke-width="0.8"/>
<line x1="249.11" y1="120.1" x2="249.11" y2="118.9" stroke="#000" stroke-width="0.8"/>
<line x1="249.11" y1="23.4" x2="249.11" y2="24.6" stroke="#000" stroke-width="0.8"/>
<line x1="251.92" y1="120.1" x2="251.92" y2="118.9" stroke="#000" stroke-width="0.8"/>
<line x1="251.92" y1="23.4" x2="251.92" y2="24.6" stroke="#000" stroke-width="0.8"/>
<line x1="254.74" y1="120.1" x2="254.74" y2="118.9" stroke="#000" stroke-width="0.8"/>
<line x1="254.74" y1="23.4" x2="254.74" y2="24.6" stroke="#000" stroke-width="0.8"/>
<line x1="257.55" y1="120.1" x2="257.55" y2="118.9" stroke="#000" stroke-width="0.8"/>
<line x1="257.55" y1="23.4" x2="257.55" y2="24.6" stroke="#000" stroke-width="0.8"/>
<line x1="260.37" y1="120.1" x2="260.37" y2="118.9" stroke="#000" stroke-width="0.8"/>
<line x1="260.37" y1="23.4" x2="260.37" y2="24.6" stroke="#000" stroke-width="0.8"/>
<line x1="263.18" y1="120.1" x2="263.18" y2="118.9" stroke="#000" stroke-width="0.8"/>
<line x1="263.18" y1="23.4" x2="263.18" y2="24.6" stroke="#000" stroke-width="0.8"/>
<line x1="265.99" y1="120.1" x2="265.99" y2="118.9" stroke="#000" stroke-width="0.8"/>
<line x1="265.99" y1="23.4" x2="265.99" y2="24.6" stroke="#000" stroke-width="0.8"/>
<line x1="268.81" y1="120.1" x2="268.81" y2="118.9" stroke="#000" stroke-width="0.8"/>
<line x1="268.81" y1="23.4" x2="268.81" y2="24.6" stroke="#000" stroke-width="0.8"/>
<line x1="271.62" y1="120.1" x2="271.62" y2="118.9" stroke="#000" stroke-width="0.8"/>
<line x1="271.62" y1="23.4" x2="271.62" y2="24.6" stroke="#000" stroke-width="0.8"/>
<line x1="274.44" y1="120.1" x2="274.44" y2="118.9" stroke="#000" stroke-width="0.8"/>
<line x1="274.44" y1="23.4" x2="274.44" y2="24.6" stroke="#000" stroke-width="0.8"/>
<line x1="277.25" y1="120.1" x2="277.25" y2="118.9" stroke="#000" stroke-width="0.8"/>
<line x1="277.25" y1="23.4" x2="277.25" y2="24.6" stroke="#000" stroke-width="0.8"/>
<line x1="280.07" y1="120.1" x2="280.07" y2="118.9" stroke="#000" stroke-width="0.8"/>
<line x1="280.07" y1="23.4" x2="280.07" y2="24.6" stroke="#000" stroke-width="0.8"/>
<line x1="282.88" y1="120.1" x2="282.88" y2="118.9" stroke="#000" stroke-width="0.8"/>
<line x1="282.88" y1="23.4" x2="282.88" y2="24.6" stroke="#000" stroke-width="0.8"/>
<line x1="285.7" y1="120.1" x2="285.7" y2="118.9" stroke="#000" stroke-width="0.8"/>
<line x1="285.7" y1="23.4" x2="285.7" y2="24.6" stroke="#000" stroke-width="0.8"/>
<line x1="288.51" y1="120.1" x2="288.51" y2="118.9" stroke="#000" stroke-width="0.8"/>
<line x1="288.51" y1="23.4" x2="288.51" y2="24.6" stroke="#000" stroke-width="0.8"/>
<line x1="291.33" y1="120.1" x2="291.33" y2="118.9" stroke="#000" stroke-width="0.8"/>
<line x1="291.33" y1="23.4" x2="291.33" y2="24.6" stroke="#000" stroke-width="0.8"/>
<line x1="294.14" y1="120.1" x2="294.14" y2="118.9" stroke="#000" stroke-width="0.8"/>
<line x1="294.14" y1="23.4" x2="294.14" y2="24.6" stroke="#000" stroke-width="0.8"/>
<line x1="296.96" y1="120.1" x2="296.96" y2="118.9" stroke="#000" stroke-width="0.8"/>
<line x1="296.96" y1="23.4" x2="296.96" y2="24.6" stroke="#000" stroke-width="0.8"/>
<line x1="299.77" y1="120.1" x2="299.77" y2="118.9" stroke="#000" stroke-width="0.8"/>
<line x1="299.77" y1="23.4" x2="299.77" y2="24.6" stroke="#000" stroke-width="0.8"/>
<line x1="302.59" y1="120.1" x2="302.59" y2="118.9" stroke="#000" stroke-width="0.8"/>
<line x1="302.59" y1="23.4" x2="302.59" y2="24.6" stroke="#000" stroke-width="0.8"/>
<line x1="305.4" y1="120.1" x2="305.4" y2="118.9" stroke="#000" stroke-width="0.8"/>
<line x1="305.4" y1="23.4" x2="305.4" y2="24.6" stroke="#000" stroke-width="0.8"/>
<line x1="308.22" y1="120.1" x2="308.22" y2="118.9" stroke="#000" stroke-width="0.8"/>
<line x1="308.22" y1="23.4" x2="308.22" y2="24.6" stroke="#000" stroke-width="0.8"/>
<line x1="311.03" y1="120.1" x2="311.03" y2="118.9" stroke="#000" stroke-width="0.8"/>
<line x1="311.03" y1="23.4" x2="311.03" y2="24.6" stroke="#000" stroke-width="0.8"/>
<line x1="313.85" y1="120.1" x2="313.85" y2="118.9" stroke="#000" stroke-width="0.8"/>
<line x1="313.85" y1="23.4" x2="313.85" y2="24.6" stroke="#000" stroke-width="0.8"/>
<line x1="316.66" y1="120.1" x2="316.66" y2="118.9" stroke="#000" stroke-width="0.8"/>
<line x1="316.66" y1="23.4" x2="316.66" y2="24.6" stroke="#000" stroke-width="0.8"/>
<line x1="319.47" y1="120.1" x2="319.47" y2="118.9" stroke="#000" stroke-width="0.8"/>
<line x1="319.47" y1="23.4" x2="319.47" y2="24.6" stroke="#000" stroke-width="0.8"/>
<line x1="322.29" y1="120.1" x2="322.29" y2="118.9" stroke="#000" stroke-width="0.8"/>
<line x1="322.29" y1="23.4" x2="322.29" y2="24.6" stroke="#000" stroke-width="0.8"/>
<line x1="325.1" y1="120.1" x2="325.1" y2="118.9" stroke="#000" stroke-width="0.8"/>
<line x1="325.1" y1="23.4" x2="325.1" y2="24.6" stroke="#000" stroke-width="0.8"/>
<line x1="327.92" y1="120.1" x2="327.92" y2="118.9" stroke="#000" stroke-width="0.8"/>
<line x1="327.92" y1="23.4" x2="327.92" y2="24.6" stroke="#000" stroke-width="0.8"/>
<line x1="330.73" y1="120.1" x2="330.73" y2="118.9" stroke="#000" stroke-width="0.8"/>
<line x1="330.73" y1="23.4" x2="330.73" y2="24.6" stroke="#000" stroke-width="0.8"/>
<line x1="333.55" y1="120.1" x2="333.55" y2="118.9" stroke="#000" stroke-width="0.8"/>
<line x1="333.55" y1="23.4" x2="333.55" y2="24.6" stroke="#000" stroke-width="0.8"/>
<line x1="336.36" y1="120.1" x2="336.36" y2="118.9" stroke="#000" stroke-width="0.8"/>
<line x1="336.36" y1="23.4" x2="336.36" y2="24.6" stroke="#000" stroke-width="0.8"/>
<line x1="339.18" y1="120.1" x2="339.18" y2="118.9" stroke="#000" stroke-width="0.8"/>
<line x1="339.18" y1="23.4" x2="339.18" y2="24.6" stroke="#000" stroke-width="0.8"/>
<line x1="341.99" y1="120.1" x2="341.99" y2="118.9" stroke="#000" stroke-width="0.8"/>
<line x1="341.99" y1="23.4" x2="341.99" y2="24.6" stroke="#000" stroke-width="0.8"/>
<line x1="209.7" y1="112.04" x2="211.9" y2="112.04" stroke="#000" stroke-width="0.8"/>
<line x1="343.4" y1="112.04" x2="341.2" y2="112.04" stroke="#000" stroke-width="0.8"/>
<line x1="209.7" y1="91.9" x2="211.9" y2="91.9" stroke="#000" stroke-width="0.8"/>
<line x1="343.4" y1="91.9" x2="341.2" y2="91.9" stroke="#000" stroke-width="0.8"/>
<line x1="209.7" y1="71.75" x2="211.9" y2="71.75" stroke="#000" stroke-width="0.8"/>
<line x1="343.4" y1="71.75" x2="341.2" y2="71.75" stroke="#000" stroke-width="0.8"/>
<line x1="209.7" y1="51.6" x2="211.9" y2="51.6" stroke="#000" stroke-width="0.8"/>
<line x1="343.4" y1="51.6" x2="341.2" y2="51.6" stroke="#000" stroke-width="0.8"/>
<line x1="209.7" y1="31.46" x2="211.9" y2="31.46" stroke="#000" stroke-width="0.8"/>
<line x1="343.4" y1="31.46" x2="341.2" y2="31.46" stroke="#000" stroke-width="0.8"/>
<line x1="209.7" y1="120.1" x2="210.9" y2="120.1" stroke="#000" stroke-width="0.8"/>
<line x1="343.4" y1="120.1" x2="342.2" y2="120.1" stroke="#000" stroke-width="0.8"/>
<line x1="209.7" y1="116.07" x2="210.9" y2="116.07" stroke="#000" stroke-width="0.8"/>
<line x1="343.4" y1="116.07" x2="342.2" y2="116.07" stroke="#000" stroke-width="0.8"/>
<line x1="209.7" y1="112.04" x2="210.9" y2="112.04" stroke="#000" stroke-width="0.8"/>
<line x1="343.4" y1="112.04" x2="342.2" y2="112.04" stroke="#000" stroke-width="0.8"/>
<line x1="209.7" y1="108.01" x2="210.9" y2="108.01" stroke="#000" stroke-width="0.8"/>
<line x1="343.4" y1="108.01" x2="342.2" y2="108.01" stroke="#000" stroke-width="0.8"/>
<line x1="209.7" y1="103.98" x2="210.9" y2="103.98" stroke="#000" stroke-width="0.8"/>
<line x1="343.4" y1="103.98" x2="342.2" y2="103.98" stroke="#000" stroke-width="0.8"/>
<line x1="209.7" y1="99.95" x2="210.9" y2="99.95" stroke="#000" stroke-width="0.8"/>
<line x1="343.4" y1="99.95" x2="342.2" y2="99.95" stroke="#000" stroke-width="0.8"/>
<line x1="209.7" y1="95.92" x2="210.9" y2="95.92" stroke="#000" stroke-width="0.8"/>
<line x1="343.4" y1="95.92" x2="342.2" y2="95.92" stroke="#000" stroke-width="0.8"/>
<line x1="209.7" y1="91.9" x2="210.9" y2="91.9" stroke="#000" stroke-width="0.8"/>
<line x1="343.4" y1="91.9" x2="342.2" y2="91.9" stroke="#000" stroke-width="0.8"/>
<line x1="209.7" y1="87.87" x2="210.9" y2="87.87" stroke="#000" stroke-width="0.8"/>
<line x1="343.4" y1="87.87" x2="342.2" y2="87.87" stroke="#000" stroke-width="0.8"/>
<line x1="209.7" y1="83.84" x2="210.9" y2="83.84" stroke="#000" stroke-width="0.8"/>
<line x1="343.4" y1="83.84" x2="342.2" y2="83.84" stroke="#000" stroke-width="0.8"/>
<line x1="209.7" y1="79.81" x2="210.9" y2="79.81" stroke="#000" stroke-width="0.8"/>
<line x1="343.4" y1="79.81" x2="342.2" y2="79.81" stroke="#000" stroke-width="0.8"/>
<line x1="209.7" y1="75.78" x2="210.9" y2="75.78" stroke="#000" stroke-width="0.8"/>
<line x1="343.4" y1="75.78" x2="342.2" y2="75.78" stroke="#000" stroke-width="0.8"/>
<line x1="209.7" y1="71.75" x2="210.9" y2="71.75" stroke="#000" stroke-width="0.8"/>
<line x1="343.4" y1="71.75" x2="342.2" y2="71.75" stroke="#000" stroke-width="0.8"/>
<line x1="209.7" y1="67.72" x2="210.9" y2="67.72" stroke="#000" stroke-width="0.8"/>
<line x1="343.4" y1="67.72" x2="342.2" y2="67.72" stroke="#000" stroke-width="0.8"/>
<line x1="209.7" y1="63.69" x2="210.9" y2="63.69" stroke="#000" stroke-width="0.8"/>
<line x1="343.4" y1="63.69" x2="342.2" y2="63.69" stroke="#000" stroke-width="0.8"/>
<line x1="209.7" y1="59.66" x2="210.9" y2="59.66" stroke="#000" stroke-width="0.8"/>
<line x1="343.4" y1="59.66" x2="342.2" y2="59.66" stroke="#000" stroke-width="0.8"/>
<line x1="209.7" y1="55.63" x2="210.9" y2="55.63" stroke="#000" stroke-width="0.8"/>
<line x1="343.4" y1="55.63" x2="342.2" y2="55.63" stroke="#000" stroke-width="0.8"/>
<line x1="209.7" y1="51.6" x2="210.9" y2="51.6" stroke="#000" stroke-width="0.8"/>
<line x1="343.4" y1="51.6" x2="342.2" y2="51.6" stroke="#000" stroke-width="0.8"/>
<line x1="209.7" y1="47.58" x2="210.9" y2="47.58" stroke="#000" stroke-width="0.8"/>
<line x1="343.4" y1="47.58" x2="342.2" y2="47.58" stroke="#000" stroke-width="0.8"/>
<line x1="209.7" y1="43.55" x2="210.9" y2="43.55" stroke="#000" stroke-width="0.8"/>
<line x1="343.4" y1="43.55" x2="342.2" y2="43.55" stroke="#000" stroke-width="0.8"/>
<line x1="209.7" y1="39.52" x2="210.9" y2="39.52" stroke="#000" stroke-width="0.8"/>
<line x1="343.4" y1="39.52" x2="342.2" y2="39.52" stroke="#000" stroke-width="0.8"/>
<line x1="209.7" y1="35.49" x2="210.9" y2="35.49" stroke="#000" stroke-width="0.8"/>
<line x1="343.4" y1="35.49" x2="342.2" y2="35.49" stroke="#000" stroke-width="0.8"/>
<line x1="209.7" y1="31.46" x2="210.9" y2="31.46" stroke="#000" stroke-width="0.8"/>
<line x1="343.4" y1="31.46" x2="342.2" y2="31.46" stroke="#000" stroke-width="0.8"/>
<line x1="209.7" y1="27.43" x2="210.9" y2="27.43" stroke="#000" stroke-width="0.8"/>
<line x1="343.4" y1="27.43" x2="342.2" y2="27.43" stroke="#000" stroke-width="0.8"/>
<line x1="209.7" y1="23.4" x2="210.9" y2="23.4" stroke="#000" stroke-width="0.8"/>
<line x1="343.4" y1="23.4" x2="342.2" y2="23.4" stroke="#000" stroke-width="0.8"/>
<line x1="209.7" y1="23.4" x2="343.4" y2="23.4" stroke="#000" stroke-width="0.85"/>
<line x1="209.7" y1="120.1" x2="343.4" y2="120.1" stroke="#000" stroke-width="0.85"/>
<line x1="209.7" y1="23.4" x2="209.7" y2="120.1" stroke="#000" stroke-width="0.85"/>
<line x1="343.4" y1="23.4" x2="343.4" y2="120.1" stroke="#000" stroke-width="0.85"/>
<line x1="28.37" y1="265.1" x2="28.37" y2="262.9" stroke="#000" stroke-width="0.8"/>
<line x1="28.37" y1="168.6" x2="28.37" y2="170.8" stroke="#000" stroke-width="0.8"/>
<line x1="92.65" y1="265.1" x2="92.65" y2="262.9" stroke="#000" stroke-width="0.8"/>
<line x1="92.65" y1="168.6" x2="92.65" y2="170.8" stroke="#000" stroke-width="0.8"/>
<line x1="156.93" y1="265.1" x2="156.93" y2="262.9" stroke="#000" stroke-width="0.8"/>
<line x1="156.93" y1="168.6" x2="156.93" y2="170.8" stroke="#000" stroke-width="0.8"/>
<line x1="28.37" y1="265.1" x2="28.37" y2="263.9" stroke="#000" stroke-width="0.8"/>
<line x1="28.37" y1="168.6" x2="28.37" y2="169.8" stroke="#000" stroke-width="0.8"/>
<line x1="34.8" y1="265.1" x2="34.8" y2="263.9" stroke="#000" stroke-width="0.8"/>
<line x1="34.8" y1="168.6" x2="34.8" y2="169.8" stroke="#000" stroke-width="0.8"/>
<line x1="41.23" y1="265.1" x2="41.23" y2="263.9" stroke="#000" stroke-width="0.8"/>
<line x1="41.23" y1="168.6" x2="41.23" y2="169.8" stroke="#000" stroke-width="0.8"/>
<line x1="47.65" y1="265.1" x2="47.65" y2="263.9" stroke="#000" stroke-width="0.8"/>
<line x1="47.65" y1="168.6" x2="47.65" y2="169.8" stroke="#000" stroke-width="0.8"/>
<line x1="54.08" y1="265.1" x2="54.08" y2="263.9" stroke="#000" stroke-width="0.8"/>
<line x1="54.08" y1="168.6" x2="54.08" y2="169.8" stroke="#000" stroke-width="0.8"/>
<line x1="60.51" y1="265.1" x2="60.51" y2="263.9" stroke="#000" stroke-width="0.8"/>
<line x1="60.51" y1="168.6" x2="60.51" y2="169.8" stroke="#000" stroke-width="0.8"/>
<line x1="66.94" y1="265.1" x2="66.94" y2="263.9" stroke="#000" stroke-width="0.8"/>
<line x1="66.94" y1="168.6" x2="66.94" y2="169.8" stroke="#000" stroke-width="0.8"/>
<line x1="73.37" y1="265.1" x2="73.37" y2="263.9" stroke="#000" stroke-width="0.8"/>
<line x1="73.37" y1="168.6" x2="73.37" y2="169.8" stroke="#000" stroke-width="0.8"/>
<line x1="79.79" y1="265.1" x2="79.79" y2="263.9" stroke="#000" stroke-width="0.8"/>
<line x1="79.79" y1="168.6" x2="79.79" y2="169.8" stroke="#000" stroke-width="0.8"/>
<line x1="86.22" y1="265.1" x2="86.22" y2="263.9" stroke="#000" stroke-width="0.8"/>
<line x1="86.22" y1="168.6" x2="86.22" y2="169.8" stroke="#000" stroke-width="0.8"/>
<line x1="92.65" y1="265.1" x2="92.65" y2="263.9" stroke="#000" stroke-width="0.8"/>
<line x1="92.65" y1="168.6" x2="92.65" y2="169.8" stroke="#000" stroke-width="0.8"/>
<line x1="99.08" y1="265.1" x2="99.08" y2="263.9" stroke="#000" stroke-width="0.8"/>
<line x1="99.08" y1="168.6" x2="99.08" y2="169.8" stroke="#000" stroke-width="0.8"/>
<line x1="105.51" y1="265.1" x2="105.51" y2="263.9" stroke="#000" stroke-width="0.8"/>
<line x1="105.51" y1="168.6" x2="105.51" y2="169.8" stroke="#000" stroke-width="0.8"/>
<line x1="111.93" y1="265.1" x2="111.93" y2="263.9" stroke="#000" stroke-width="0.8"/>
<line x1="111.93" y1="168.6" x2="111.93" y2="169.8" stroke="#000" stroke-width="0.8"/>
<line x1="118.36" y1="265.1" x2="118.36" y2="263.9" stroke="#000" stroke-width="0.8"/>
<line x1="118.36" y1="168.6" x2="118.36" y2="169.8" stroke="#000" stroke-width="0.8"/>
<line x1="124.79" y1="265.1" x2="124.79" y2="263.9" stroke="#000" stroke-width="0.8"/>
<line x1="124.79" y1="168.6" x2="124.79" y2="169.8" stroke="#000" stroke-width="0.8"/>
<line x1="131.22" y1="265.1" x2="131.22" y2="263.9" stroke="#000" stroke-width="0.8"/>
<line x1="131.22" y1="168.6" x2="131.22" y2="169.8" stroke="#000" stroke-width="0.8"/>
<line x1="137.65" y1="265.1" x2="137.65" y2="263.9" stroke="#000" stroke-width="0.8"/>
<line x1="137.65" y1="168.6" x2="137.65" y2="169.8" stroke="#000" stroke-width="0.8"/>
<line x1="144.07" y1="265.1" x2="144.07" y2="263.9" stroke="#000" stroke-width="0.8"/>
<line x1="144.07" y1="168.6" x2="144.07" y2="169.8" stroke="#000" stroke-width="0.8"/>
<line x1="150.5" y1="265.1" x2="150.5" y2="263.9" stroke="#000" stroke-width="0.8"/>
<line x1="150.5" y1="168.6" x2="150.5" y2="169.8" stroke="#000" stroke-width="0.8"/>
<line x1="156.93" y1="265.1" x2="156.93" y2="263.9" stroke="#000" stroke-width="0.8"/>
<line x1="156.93" y1="168.6" x2="156.93" y2="169.8" stroke="#000" stroke-width="0.8"/>
<line x1="25.8" y1="259.07" x2="28" y2="259.07" stroke="#000" stroke-width="0.8"/>
<line x1="159.5" y1="259.07" x2="157.3" y2="259.07" stroke="#000" stroke-width="0.8"/>
<line x1="25.8" y1="228.91" x2="28" y2="228.91" stroke="#000" stroke-width="0.8"/>
<line x1="159.5" y1="228.91" x2="157.3" y2="228.91" stroke="#000" stroke-width="0.8"/>
<line x1="25.8" y1="198.76" x2="28" y2="198.76" stroke="#000" stroke-width="0.8"/>
<line x1="159.5" y1="198.76" x2="157.3" y2="198.76" stroke="#000" stroke-width="0.8"/>
<line x1="25.8" y1="168.6" x2="28" y2="168.6" stroke="#000" stroke-width="0.8"/>
<line x1="159.5" y1="168.6" x2="157.3" y2="168.6" stroke="#000" stroke-width="0.8"/>
<line x1="25.8" y1="265.1" x2="27" y2="265.1" stroke="#000" stroke-width="0.8"/>
<line x1="159.5" y1="265.1" x2="158.3" y2="265.1" stroke="#000" stroke-width="0.8"/>
<line x1="25.8" y1="262.08" x2="27" y2="262.08" stroke="#000" stroke-width="0.8"/>
<line x1="159.5" y1="262.08" x2="158.3" y2="262.08" stroke="#000" stroke-width="0.8"/>
<line x1="25.8" y1="259.07" x2="27" y2="259.07" stroke="#000" stroke-width="0.8"/>
<line x1="159.5" y1="259.07" x2="158.3" y2="259.07" stroke="#000" stroke-width="0.8"/>
<line x1="25.8" y1="256.05" x2="27" y2="256.05" stroke="#000" stroke-width="0.8"/>
<line x1="159.5" y1="256.05" x2="158.3" y2="256.05" stroke="#000" stroke-width="0.8"/>
<line x1="25.8" y1="253.04" x2="27" y2="253.04" stroke="#000" stroke-width="0.8"/>
<line x1="159.5" y1="253.04" x2="158.3" y2="253.04" stroke="#000" stroke-width="0.8"/>
<line x1="25.8" y1="250.02" x2="27" y2="250.02" stroke="#000" stroke-width="0.8"/>
<line x1="159.5" y1="250.02" x2="158.3" y2="250.02" stroke="#000" stroke-width="0.8"/>
<line x1="25.8" y1="247.01" x2="27" y2="247.01" stroke="#000" stroke-width="0.8"/>
<line x1="159.5" y1="247.01" x2="158.3" y2="247.01" stroke="#000" stroke-width="0.8"/>
<line x1="25.8" y1="243.99" x2="27" y2="243.99" stroke="#000" stroke-width="0.8"/>
<line x1="159.5" y1="243.99" x2="158.3" y2="243.99" stroke="#000" stroke-width="0.8"/>
<line x1="25.8" y1="240.98" x2="27" y2="240.98" stroke="#000" stroke-width="0.8"/>
<line x1="159.5" y1="240.98" x2="158.3" y2="240.98" stroke="#000" stroke-width="0.8"/>
<line x1="25.8" y1="237.96" x2="27" y2="237.96" stroke="#000" stroke-width="0.8"/>
<line x1="159.5" y1="237.96" x2="158.3" y2="237.96" stroke="#000" stroke-width="0.8"/>
<line x1="25.8" y1="234.94" x2="27" y2="234.94" stroke="#000" stroke-width="0.8"/>
<line x1="159.5" y1="234.94" x2="158.3" y2="234.94" stroke="#000" stroke-width="0.8"/>
<line x1="25.8" y1="231.93" x2="27" y2="231.93" stroke="#000" stroke-width="0.8"/>
<line x1="159.5" y1="231.93" x2="158.3" y2="231.93" stroke="#000" stroke-width="0.8"/>
<line x1="25.8" y1="228.91" x2="27" y2="228.91" stroke="#000" stroke-width="0.8"/>
<line x1="159.5" y1="228.91" x2="158.3" y2="228.91" stroke="#000" stroke-width="0.8"/>
<line x1="25.8" y1="225.9" x2="27" y2="225.9" stroke="#000" stroke-width="0.8"/>
<line x1="159.5" y1="225.9" x2="158.3" y2="225.9" stroke="#000" stroke-width="0.8"/>
<line x1="25.8" y1="222.88" x2="27" y2="222.88" stroke="#000" stroke-width="0.8"/>
<line x1="159.5" y1="222.88" x2="158.3" y2="222.88" stroke="#000" stroke-width="0.8"/>
<line x1="25.8" y1="219.87" x2="27" y2="219.87" stroke="#000" stroke-width="0.8"/>
<line x1="159.5" y1="219.87" x2="158.3" y2="219.87" stroke="#000" stroke-width="0.8"/>
<line x1="25.8" y1="216.85" x2="27" y2="216.85" stroke="#000" stroke-width="0.8"/>
<line x1="159.5" y1="216.85" x2="158.3" y2="216.85" stroke="#000" stroke-width="0.8"/>
<line x1="25.8" y1="213.83" x2="27" y2="213.83" stroke="#000" stroke-width="0.8"/>
<line x1="159.5" y1="213.83" x2="158.3" y2="213.83" stroke="#000" stroke-width="0.8"/>
<line x1="25.8" y1="210.82" x2="27" y2="210.82" stroke="#000" stroke-width="0.8"/>
<line x1="159.5" y1="210.82" x2="158.3" y2="210.82" stroke="#000" stroke-width="0.8"/>
<line x1="25.8" y1="207.8" x2="27" y2="207.8" stroke="#000" stroke-width="0.8"/>
<line x1="159.5" y1="207.8" x2="158.3" y2="207.8" stroke="#000" stroke-width="0.8"/>
<line x1="25.8" y1="204.79" x2="27" y2="204.79" stroke="#000" stroke-width="0.8"/>
<line x1="159.5" y1="204.79" x2="158.3" y2="204.79" stroke="#000" stroke-width="0.8"/>
<line x1="25.8" y1="201.77" x2="27" y2="201.77" stroke="#000" stroke-width="0.8"/>
<line x1="159.5" y1="201.77" x2="158.3" y2="201.77" stroke="#000" stroke-width="0.8"/>
<line x1="25.8" y1="198.76" x2="27" y2="198.76" stroke="#000" stroke-width="0.8"/>
<line x1="159.5" y1="198.76" x2="158.3" y2="198.76" stroke="#000" stroke-width="0.8"/>
<line x1="25.8" y1="195.74" x2="27" y2="195.74" stroke="#000" stroke-width="0.8"/>
<line x1="159.5" y1="195.74" x2="158.3" y2="195.74" stroke="#000" stroke-width="0.8"/>
<line x1="25.8" y1="192.72" x2="27" y2="192.72" stroke="#000" stroke-width="0.8"/>
<line x1="159.5" y1="192.72" x2="158.3" y2="192.72" stroke="#000" stroke-width="0.8"/>
<line x1="25.8" y1="189.71" x2="27" y2="189.71" stroke="#000" stroke-width="0.8"/>
<line x1="159.5" y1="189.71" x2="158.3" y2="189.71" stroke="#000" stroke-width="0.8"/>
<line x1="25.8" y1="186.69" x2="27" y2="186.69" stroke="#000" stroke-width="0.8"/>
<line x1="159.5" y1="186.69" x2="158.3" y2="186.69" stroke="#000" stroke-width="0.8"/>
<line x1="25.8" y1="183.68" x2="27" y2="183.68" stroke="#000" stroke-width="0.8"/>
<line x1="159.5" y1="183.68" x2="158.3" y2="183.68" stroke="#000" stroke-width="0.8"/>
<line x1="25.8" y1="180.66" x2="27" y2="180.66" stroke="#000" stroke-width="0.8"/>
<line x1="159.5" y1="180.66" x2="158.3" y2="180.66" stroke="#000" stroke-width="0.8"/>
<line x1="25.8" y1="177.65" x2="27" y2="177.65" stroke="#000" stroke-width="0.8"/>
<line x1="159.5" y1="177.65" x2="158.3" y2="177.65" stroke="#000" stroke-width="0.8"/>
<line x1="25.8" y1="174.63" x2="27" y2="174.63" stroke="#000" stroke-width="0.8"/>
<line x1="159.5" y1="174.63" x2="158.3" y2="174.63" stroke="#000" stroke-width="0.8"/>
<line x1="25.8" y1="171.62" x2="27" y2="171.62" stroke="#000" stroke-width="0.8"/>
<line x1="159.5" y1="171.62" x2="158.3" y2="171.62" stroke="#000" stroke-width="0.8"/>
<line x1="25.8" y1="168.6" x2="27" y2="168.6" stroke="#000" stroke-width="0.8"/>
<line x1="159.5" y1="168.6" x2="158.3" y2="168.6" stroke="#000" stroke-width="0.8"/>
<line x1="25.8" y1="168.6" x2="159.5" y2="168.6" stroke="#000" stroke-width="0.85"/>
<line x1="25.8" y1="265.1" x2="159.5" y2="265.1" stroke="#000" stroke-width="0.85"/>
<line x1="25.8" y1="168.6" x2="25.8" y2="265.1" stroke="#000" stroke-width="0.85"/>
<line x1="159.5" y1="168.6" x2="159.5" y2="265.1" stroke="#000" stroke-width="0.85"/>
<line x1="209.7" y1="265.2" x2="209.7" y2="263" stroke="#000" stroke-width="0.8"/>
<line x1="209.7" y1="168.4" x2="209.7" y2="170.6" stroke="#000" stroke-width="0.8"/>
<line x1="261.8" y1="265.2" x2="261.8" y2="263" stroke="#000" stroke-width="0.8"/>
<line x1="261.8" y1="168.4" x2="261.8" y2="170.6" stroke="#000" stroke-width="0.8"/>
<line x1="313.9" y1="265.2" x2="313.9" y2="263" stroke="#000" stroke-width="0.8"/>
<line x1="313.9" y1="168.4" x2="313.9" y2="170.6" stroke="#000" stroke-width="0.8"/>
<line x1="209.7" y1="265.2" x2="209.7" y2="264" stroke="#000" stroke-width="0.8"/>
<line x1="209.7" y1="168.4" x2="209.7" y2="169.6" stroke="#000" stroke-width="0.8"/>
<line x1="214.91" y1="265.2" x2="214.91" y2="264" stroke="#000" stroke-width="0.8"/>
<line x1="214.91" y1="168.4" x2="214.91" y2="169.6" stroke="#000" stroke-width="0.8"/>
<line x1="220.12" y1="265.2" x2="220.12" y2="264" stroke="#000" stroke-width="0.8"/>
<line x1="220.12" y1="168.4" x2="220.12" y2="169.6" stroke="#000" stroke-width="0.8"/>
<line x1="225.33" y1="265.2" x2="225.33" y2="264" stroke="#000" stroke-width="0.8"/>
<line x1="225.33" y1="168.4" x2="225.33" y2="169.6" stroke="#000" stroke-width="0.8"/>
<line x1="230.54" y1="265.2" x2="230.54" y2="264" stroke="#000" stroke-width="0.8"/>
<line x1="230.54" y1="168.4" x2="230.54" y2="169.6" stroke="#000" stroke-width="0.8"/>
<line x1="235.75" y1="265.2" x2="235.75" y2="264" stroke="#000" stroke-width="0.8"/>
<line x1="235.75" y1="168.4" x2="235.75" y2="169.6" stroke="#000" stroke-width="0.8"/>
<line x1="240.96" y1="265.2" x2="240.96" y2="264" stroke="#000" stroke-width="0.8"/>
<line x1="240.96" y1="168.4" x2="240.96" y2="169.6" stroke="#000" stroke-width="0.8"/>
<line x1="246.17" y1="265.2" x2="246.17" y2="264" stroke="#000" stroke-width="0.8"/>
<line x1="246.17" y1="168.4" x2="246.17" y2="169.6" stroke="#000" stroke-width="0.8"/>
<line x1="251.38" y1="265.2" x2="251.38" y2="264" stroke="#000" stroke-width="0.8"/>
<line x1="251.38" y1="168.4" x2="251.38" y2="169.6" stroke="#000" stroke-width="0.8"/>
<line x1="256.59" y1="265.2" x2="256.59" y2="264" stroke="#000" stroke-width="0.8"/>
<line x1="256.59" y1="168.4" x2="256.59" y2="169.6" stroke="#000" stroke-width="0.8"/>
<line x1="261.8" y1="265.2" x2="261.8" y2="264" stroke="#000" stroke-width="0.8"/>
<line x1="261.8" y1="168.4" x2="261.8" y2="169.6" stroke="#000" stroke-width="0.8"/>
<line x1="267.01" y1="265.2" x2="267.01" y2="264" stroke="#000" stroke-width="0.8"/>
<line x1="267.01" y1="168.4" x2="267.01" y2="169.6" stroke="#000" stroke-width="0.8"/>
<line x1="272.22" y1="265.2" x2="272.22" y2="264" stroke="#000" stroke-width="0.8"/>
<line x1="272.22" y1="168.4" x2="272.22" y2="169.6" stroke="#000" stroke-width="0.8"/>
<line x1="277.43" y1="265.2" x2="277.43" y2="264" stroke="#000" stroke-width="0.8"/>
<line x1="277.43" y1="168.4" x2="277.43" y2="169.6" stroke="#000" stroke-width="0.8"/>
<line x1="282.64" y1="265.2" x2="282.64" y2="264" stroke="#000" stroke-width="0.8"/>
<line x1="282.64" y1="168.4" x2="282.64" y2="169.6" stroke="#000" stroke-width="0.8"/>
<line x1="287.85" y1="265.2" x2="287.85" y2="264" stroke="#000" stroke-width="0.8"/>
<line x1="287.85" y1="168.4" x2="287.85" y2="169.6" stroke="#000" stroke-width="0.8"/>
<line x1="293.06" y1="265.2" x2="293.06" y2="264" stroke="#000" stroke-width="0.8"/>
<line x1="293.06" y1="168.4" x2="293.06" y2="169.6" stroke="#000" stroke-width="0.8"/>
<line x1="298.27" y1="265.2" x2="298.27" y2="264" stroke="#000" stroke-width="0.8"/>
<line x1="298.27" y1="168.4" x2="298.27" y2="169.6" stroke="#000" stroke-width="0.8"/>
<line x1="303.48" y1="265.2" x2="303.48" y2="264" stroke="#000" stroke-width="0.8"/>
<line x1="303.48" y1="168.4" x2="303.48" y2="169.6" stroke="#000" stroke-width="0.8"/>
<line x1="308.69" y1="265.2" x2="308.69" y2="264" stroke="#000" stroke-width="0.8"/>
<line x1="308.69" y1="168.4" x2="308.69" y2="169.6" stroke="#000" stroke-width="0.8"/>
<line x1="313.9" y1="265.2" x2="313.9" y2="264" stroke="#000" stroke-width="0.8"/>
<line x1="313.9" y1="168.4" x2="313.9" y2="169.6" stroke="#000" stroke-width="0.8"/>
<line x1="319.11" y1="265.2" x2="319.11" y2="264" stroke="#000" stroke-width="0.8"/>
<line x1="319.11" y1="168.4" x2="319.11" y2="169.6" stroke="#000" stroke-width="0.8"/>
<line x1="209.7" y1="265.2" x2="211.9" y2="265.2" stroke="#009a96" stroke-width="0.8"/>
<line x1="209.7" y1="241" x2="211.9" y2="241" stroke="#009a96" stroke-width="0.8"/>
<line x1="209.7" y1="216.8" x2="211.9" y2="216.8" stroke="#009a96" stroke-width="0.8"/>
<line x1="209.7" y1="192.6" x2="211.9" y2="192.6" stroke="#009a96" stroke-width="0.8"/>
<line x1="209.7" y1="168.4" x2="211.9" y2="168.4" stroke="#009a96" stroke-width="0.8"/>
<line x1="209.7" y1="265.2" x2="210.9" y2="265.2" stroke="#009a96" stroke-width="0.8"/>
<line x1="209.7" y1="262.78" x2="210.9" y2="262.78" stroke="#009a96" stroke-width="0.8"/>
<line x1="209.7" y1="260.36" x2="210.9" y2="260.36" stroke="#009a96" stroke-width="0.8"/>
<line x1="209.7" y1="257.94" x2="210.9" y2="257.94" stroke="#009a96" stroke-width="0.8"/>
<line x1="209.7" y1="255.52" x2="210.9" y2="255.52" stroke="#009a96" stroke-width="0.8"/>
<line x1="209.7" y1="253.1" x2="210.9" y2="253.1" stroke="#009a96" stroke-width="0.8"/>
<line x1="209.7" y1="250.68" x2="210.9" y2="250.68" stroke="#009a96" stroke-width="0.8"/>
<line x1="209.7" y1="248.26" x2="210.9" y2="248.26" stroke="#009a96" stroke-width="0.8"/>
<line x1="209.7" y1="245.84" x2="210.9" y2="245.84" stroke="#009a96" stroke-width="0.8"/>
<line x1="209.7" y1="243.42" x2="210.9" y2="243.42" stroke="#009a96" stroke-width="0.8"/>
<line x1="209.7" y1="241" x2="210.9" y2="241" stroke="#009a96" stroke-width="0.8"/>
<line x1="209.7" y1="238.58" x2="210.9" y2="238.58" stroke="#009a96" stroke-width="0.8"/>
<line x1="209.7" y1="236.16" x2="210.9" y2="236.16" stroke="#009a96" stroke-width="0.8"/>
<line x1="209.7" y1="233.74" x2="210.9" y2="233.74" stroke="#009a96" stroke-width="0.8"/>
<line x1="209.7" y1="231.32" x2="210.9" y2="231.32" stroke="#009a96" stroke-width="0.8"/>
<line x1="209.7" y1="228.9" x2="210.9" y2="228.9" stroke="#009a96" stroke-width="0.8"/>
<line x1="209.7" y1="226.48" x2="210.9" y2="226.48" stroke="#009a96" stroke-width="0.8"/>
<line x1="209.7" y1="224.06" x2="210.9" y2="224.06" stroke="#009a96" stroke-width="0.8"/>
<line x1="209.7" y1="221.64" x2="210.9" y2="221.64" stroke="#009a96" stroke-width="0.8"/>
<line x1="209.7" y1="219.22" x2="210.9" y2="219.22" stroke="#009a96" stroke-width="0.8"/>
<line x1="209.7" y1="216.8" x2="210.9" y2="216.8" stroke="#009a96" stroke-width="0.8"/>
<line x1="209.7" y1="214.38" x2="210.9" y2="214.38" stroke="#009a96" stroke-width="0.8"/>
<line x1="209.7" y1="211.96" x2="210.9" y2="211.96" stroke="#009a96" stroke-width="0.8"/>
<line x1="209.7" y1="209.54" x2="210.9" y2="209.54" stroke="#009a96" stroke-width="0.8"/>
<line x1="209.7" y1="207.12" x2="210.9" y2="207.12" stroke="#009a96" stroke-width="0.8"/>
<line x1="209.7" y1="204.7" x2="210.9" y2="204.7" stroke="#009a96" stroke-width="0.8"/>
<line x1="209.7" y1="202.28" x2="210.9" y2="202.28" stroke="#009a96" stroke-width="0.8"/>
<line x1="209.7" y1="199.86" x2="210.9" y2="199.86" stroke="#009a96" stroke-width="0.8"/>
<line x1="209.7" y1="197.44" x2="210.9" y2="197.44" stroke="#009a96" stroke-width="0.8"/>
<line x1="209.7" y1="195.02" x2="210.9" y2="195.02" stroke="#009a96" stroke-width="0.8"/>
<line x1="209.7" y1="192.6" x2="210.9" y2="192.6" stroke="#009a96" stroke-width="0.8"/>
<line x1="209.7" y1="190.18" x2="210.9" y2="190.18" stroke="#009a96" stroke-width="0.8"/>
<line x1="209.7" y1="187.76" x2="210.9" y2="187.76" stroke="#009a96" stroke-width="0.8"/>
<line x1="209.7" y1="185.34" x2="210.9" y2="185.34" stroke="#009a96" stroke-width="0.8"/>
<line x1="209.7" y1="182.92" x2="210.9" y2="182.92" stroke="#009a96" stroke-width="0.8"/>
<line x1="209.7" y1="180.5" x2="210.9" y2="180.5" stroke="#009a96" stroke-width="0.8"/>
<line x1="209.7" y1="178.08" x2="210.9" y2="178.08" stroke="#009a96" stroke-width="0.8"/>
<line x1="209.7" y1="175.66" x2="210.9" y2="175.66" stroke="#009a96" stroke-width="0.8"/>
<line x1="209.7" y1="173.24" x2="210.9" y2="173.24" stroke="#009a96" stroke-width="0.8"/>
<line x1="209.7" y1="170.82" x2="210.9" y2="170.82" stroke="#009a96" stroke-width="0.8"/>
<line x1="209.7" y1="168.4" x2="210.9" y2="168.4" stroke="#009a96" stroke-width="0.8"/>
<line x1="318.8" y1="265.2" x2="317.6" y2="265.2" stroke="#0000a0" stroke-width="0.8"/>
<line x1="318.8" y1="261.08" x2="316.6" y2="261.08" stroke="#0000a0" stroke-width="0.8"/>
<line x1="318.8" y1="256.96" x2="317.6" y2="256.96" stroke="#0000a0" stroke-width="0.8"/>
<line x1="318.8" y1="252.84" x2="317.6" y2="252.84" stroke="#0000a0" stroke-width="0.8"/>
<line x1="318.8" y1="248.72" x2="317.6" y2="248.72" stroke="#0000a0" stroke-width="0.8"/>
<line x1="318.8" y1="244.6" x2="317.6" y2="244.6" stroke="#0000a0" stroke-width="0.8"/>
<line x1="318.8" y1="240.49" x2="316.6" y2="240.49" stroke="#0000a0" stroke-width="0.8"/>
<line x1="318.8" y1="236.37" x2="317.6" y2="236.37" stroke="#0000a0" stroke-width="0.8"/>
<line x1="318.8" y1="232.25" x2="317.6" y2="232.25" stroke="#0000a0" stroke-width="0.8"/>
<line x1="318.8" y1="228.13" x2="317.6" y2="228.13" stroke="#0000a0" stroke-width="0.8"/>
<line x1="318.8" y1="224.01" x2="317.6" y2="224.01" stroke="#0000a0" stroke-width="0.8"/>
<line x1="318.8" y1="219.89" x2="316.6" y2="219.89" stroke="#0000a0" stroke-width="0.8"/>
<line x1="318.8" y1="215.77" x2="317.6" y2="215.77" stroke="#0000a0" stroke-width="0.8"/>
<line x1="318.8" y1="211.65" x2="317.6" y2="211.65" stroke="#0000a0" stroke-width="0.8"/>
<line x1="318.8" y1="207.53" x2="317.6" y2="207.53" stroke="#0000a0" stroke-width="0.8"/>
<line x1="318.8" y1="203.41" x2="317.6" y2="203.41" stroke="#0000a0" stroke-width="0.8"/>
<line x1="318.8" y1="199.29" x2="316.6" y2="199.29" stroke="#0000a0" stroke-width="0.8"/>
<line x1="318.8" y1="195.17" x2="317.6" y2="195.17" stroke="#0000a0" stroke-width="0.8"/>
<line x1="318.8" y1="191.06" x2="317.6" y2="191.06" stroke="#0000a0" stroke-width="0.8"/>
<line x1="318.8" y1="186.94" x2="317.6" y2="186.94" stroke="#0000a0" stroke-width="0.8"/>
<line x1="318.8" y1="182.82" x2="317.6" y2="182.82" stroke="#0000a0" stroke-width="0.8"/>
<line x1="318.8" y1="178.7" x2="316.6" y2="178.7" stroke="#0000a0" stroke-width="0.8"/>
<line x1="318.8" y1="174.58" x2="317.6" y2="174.58" stroke="#0000a0" stroke-width="0.8"/>
<line x1="318.8" y1="170.46" x2="317.6" y2="170.46" stroke="#0000a0" stroke-width="0.8"/>
<line x1="209.7" y1="168.4" x2="318.8" y2="168.4" stroke="#000" stroke-width="0.85"/>
<line x1="209.7" y1="265.2" x2="318.8" y2="265.2" stroke="#000" stroke-width="0.85"/>
<line x1="209.7" y1="168.4" x2="209.7" y2="265.2" stroke="#009a96" stroke-width="0.85"/>
<line x1="318.8" y1="168.4" x2="318.8" y2="265.2" stroke="#0000a0" stroke-width="0.85"/>
<text x="0" y="0" font-size="8" text-anchor="end" fill="#000" transform="translate(24.6,117.32) scale(1,1.2)" stroke="#000" stroke-width="0.15">0</text>
<text x="0" y="0" font-size="8" text-anchor="end" fill="#000" transform="translate(24.6,100.06) scale(1,1.2)" stroke="#000" stroke-width="0.15">5</text>
<text x="0" y="0" font-size="8" text-anchor="end" fill="#000" transform="translate(24.6,82.79) scale(1,1.2)" stroke="#000" stroke-width="0.15">10</text>
<text x="0" y="0" font-size="8" text-anchor="end" fill="#000" transform="translate(24.6,65.52) scale(1,1.2)" stroke="#000" stroke-width="0.15">15</text>
<text x="0" y="0" font-size="8" text-anchor="end" fill="#000" transform="translate(24.6,48.25) scale(1,1.2)" stroke="#000" stroke-width="0.15">20</text>
<text x="0" y="0" font-size="8" text-anchor="end" fill="#000" transform="translate(24.6,30.99) scale(1,1.2)" stroke="#000" stroke-width="0.15">25</text>
<text x="0" y="0" font-size="8" text-anchor="middle" fill="#000" transform="translate(29.86,129.1) scale(1,1.2)" stroke="#000" stroke-width="0.15">−500</text>
<text x="0" y="0" font-size="8" text-anchor="middle" fill="#000" transform="translate(92.8,129.1) scale(1,1.2)" stroke="#000" stroke-width="0.15">0</text>
<text x="0" y="0" font-size="8" text-anchor="middle" fill="#000" transform="translate(153.44,129.1) scale(1,1.2)" stroke="#000" stroke-width="0.15">500</text>
<text x="0" y="0" font-size="8" text-anchor="end" fill="#000" transform="translate(208.9,116.17) scale(1,1.2)" stroke="#000" stroke-width="0.15">0</text>
<text x="0" y="0" font-size="8" text-anchor="end" fill="#000" transform="translate(208.9,96.03) scale(1,1.2)" stroke="#000" stroke-width="0.15">5</text>
<text x="0" y="0" font-size="8" text-anchor="end" fill="#000" transform="translate(208.9,75.88) scale(1,1.2)" stroke="#000" stroke-width="0.15">10</text>
<text x="0" y="0" font-size="8" text-anchor="end" fill="#000" transform="translate(208.9,55.74) scale(1,1.2)" stroke="#000" stroke-width="0.15">15</text>
<text x="0" y="0" font-size="8" text-anchor="end" fill="#000" transform="translate(208.9,35.59) scale(1,1.2)" stroke="#000" stroke-width="0.15">20</text>
<text x="0" y="0" font-size="8" text-anchor="middle" fill="#000" transform="translate(207.4,129.1) scale(1,1.2)" stroke="#000" stroke-width="0.15">−400</text>
<text x="0" y="0" font-size="8" text-anchor="middle" fill="#000" transform="translate(235.55,129.1) scale(1,1.2)" stroke="#000" stroke-width="0.15">−200</text>
<text x="0" y="0" font-size="8" text-anchor="middle" fill="#000" transform="translate(265.99,129.1) scale(1,1.2)" stroke="#000" stroke-width="0.15">0</text>
<text x="0" y="0" font-size="8" text-anchor="middle" fill="#000" transform="translate(294.14,129.1) scale(1,1.2)" stroke="#000" stroke-width="0.15">200</text>
<text x="0" y="0" font-size="8" text-anchor="middle" fill="#000" transform="translate(322.29,129.1) scale(1,1.2)" stroke="#000" stroke-width="0.15">400</text>
<text x="0" y="0" font-size="8" text-anchor="end" fill="#000" transform="translate(24.3,263.2) scale(1,1.2)" stroke="#000" stroke-width="0.15">0</text>
<text x="0" y="0" font-size="8" text-anchor="end" fill="#000" transform="translate(24.3,233.04) scale(1,1.2)" stroke="#000" stroke-width="0.15">5</text>
<text x="0" y="0" font-size="8" text-anchor="end" fill="#000" transform="translate(24.3,202.89) scale(1,1.2)" stroke="#000" stroke-width="0.15">10</text>
<text x="0" y="0" font-size="8" text-anchor="end" fill="#000" transform="translate(24.3,172.73) scale(1,1.2)" stroke="#000" stroke-width="0.15">15</text>
<text x="0" y="0" font-size="8" text-anchor="middle" fill="#000" transform="translate(26.07,274.1) scale(1,1.2)" stroke="#000" stroke-width="0.15">−500</text>
<text x="0" y="0" font-size="8" text-anchor="middle" fill="#000" transform="translate(92.65,274.1) scale(1,1.2)" stroke="#000" stroke-width="0.15">0</text>
<text x="0" y="0" font-size="8" text-anchor="middle" fill="#000" transform="translate(156.93,274.1) scale(1,1.2)" stroke="#000" stroke-width="0.15">500</text>
<text x="0" y="0" font-size="8" text-anchor="end" fill="#009a96" transform="translate(208.9,269.33) scale(1,1.2)" stroke="#009a96" stroke-width="0.15">5</text>
<text x="0" y="0" font-size="8" text-anchor="end" fill="#009a96" transform="translate(208.9,245.13) scale(1,1.2)" stroke="#009a96" stroke-width="0.15">10</text>
<text x="0" y="0" font-size="8" text-anchor="end" fill="#009a96" transform="translate(208.9,220.93) scale(1,1.2)" stroke="#009a96" stroke-width="0.15">15</text>
<text x="0" y="0" font-size="8" text-anchor="end" fill="#009a96" transform="translate(208.9,196.73) scale(1,1.2)" stroke="#009a96" stroke-width="0.15">20</text>
<text x="0" y="0" font-size="8" text-anchor="end" fill="#009a96" transform="translate(208.9,172.53) scale(1,1.2)" stroke="#009a96" stroke-width="0.15">25</text>
<text x="0" y="0" font-size="8" text-anchor="middle" fill="#000" transform="translate(209.7,274.2) scale(1,1.2)" stroke="#000" stroke-width="0.15">0</text>
<text x="0" y="0" font-size="8" text-anchor="middle" fill="#000" transform="translate(261.8,274.2) scale(1,1.2)" stroke="#000" stroke-width="0.15">500</text>
<text x="0" y="0" font-size="8" text-anchor="middle" fill="#000" transform="translate(313.9,274.2) scale(1,1.2)" stroke="#000" stroke-width="0.15">1000</text>
<text x="0" y="0" font-size="8" text-anchor="start" fill="#0000a0" transform="translate(320.3,264.51) scale(1,1.2)" stroke="#0000a0" stroke-width="0.15">0</text>
<text x="0" y="0" font-size="8" text-anchor="start" fill="#0000a0" transform="translate(320.3,243.92) scale(1,1.2)" stroke="#0000a0" stroke-width="0.15">100</text>
<text x="0" y="0" font-size="8" text-anchor="start" fill="#0000a0" transform="translate(320.3,223.32) scale(1,1.2)" stroke="#0000a0" stroke-width="0.15">200</text>
<text x="0" y="0" font-size="8" text-anchor="start" fill="#0000a0" transform="translate(320.3,202.73) scale(1,1.2)" stroke="#0000a0" stroke-width="0.15">300</text>
<text x="0" y="0" font-size="8" text-anchor="start" fill="#0000a0" transform="translate(320.3,182.13) scale(1,1.2)" stroke="#0000a0" stroke-width="0.15">400</text>
<text x="92.8" y="138.7" font-size="10" text-anchor="middle" fill="#000"  stroke="#000" stroke-width="0.15">Magnetic field (Oe)</text>
<text x="276.55" y="138.7" font-size="10" text-anchor="middle" fill="#000"  stroke="#000" stroke-width="0.15">Magnetic field (Oe)</text>
<text x="92.65" y="282.7" font-size="10" text-anchor="middle" fill="#000"  stroke="#000" stroke-width="0.15">Magnetic field (Oe)</text>
<text x="264.25" y="282.7" font-size="10" text-anchor="middle" fill="#000"  stroke="#000" stroke-width="0.15">Device size (nm)</text>
<text x="0" y="0" font-size="10" text-anchor="middle" fill="#000" transform="translate(11.5,71.75) rotate(-90)" stroke="#000" stroke-width="0.15">TMR ratio (%)</text>
<text x="0" y="0" font-size="10" text-anchor="middle" fill="#000" transform="translate(195.5,71.75) rotate(-90)" stroke="#000" stroke-width="0.15">TMR ratio (%)</text>
<text x="0" y="0" font-size="10" text-anchor="middle" fill="#000" transform="translate(11.5,216.85) rotate(-90)" stroke="#000" stroke-width="0.15">TMR ratio (%)</text>
<text x="0" y="0" font-size="10" text-anchor="middle" fill="#009a96" transform="translate(195.5,216.8) rotate(-90)" stroke="#009a96" stroke-width="0.15">TMR ratio (%)</text>
<text x="0" y="0" font-size="10" text-anchor="middle" fill="#0000a0" transform="translate(342.6,217.3) rotate(-90)" stroke="#0000a0" stroke-width="0.15">H<tspan font-size="7.5" dy="3.2">c1</tspan><tspan dy="-3.2"> (Oe)</tspan></text>
<text x="0" y="0" font-size="13.5" text-anchor="start" fill="#000" letter-spacing="1.2" transform="translate(1.2,11.1) scale(1,1.15)" stroke="#000" stroke-width="0.15">a)</text>
<text x="0" y="0" font-size="13.5" text-anchor="start" fill="#000" letter-spacing="1.2" transform="translate(185.8,11.1) scale(1,1.15)" stroke="#000" stroke-width="0.15">b)</text>
<text x="0" y="0" font-size="13.5" text-anchor="start" fill="#000" letter-spacing="1.2" transform="translate(-0.2,156.2) scale(1,1.15)" stroke="#000" stroke-width="0.15">c)</text>
<text x="0" y="0" font-size="13.5" text-anchor="start" fill="#000" letter-spacing="1.6" transform="translate(186.5,156.3) scale(1,1.0)" stroke="#000" stroke-width="0.15">d)</text>
</g>
</svg></body></html>
